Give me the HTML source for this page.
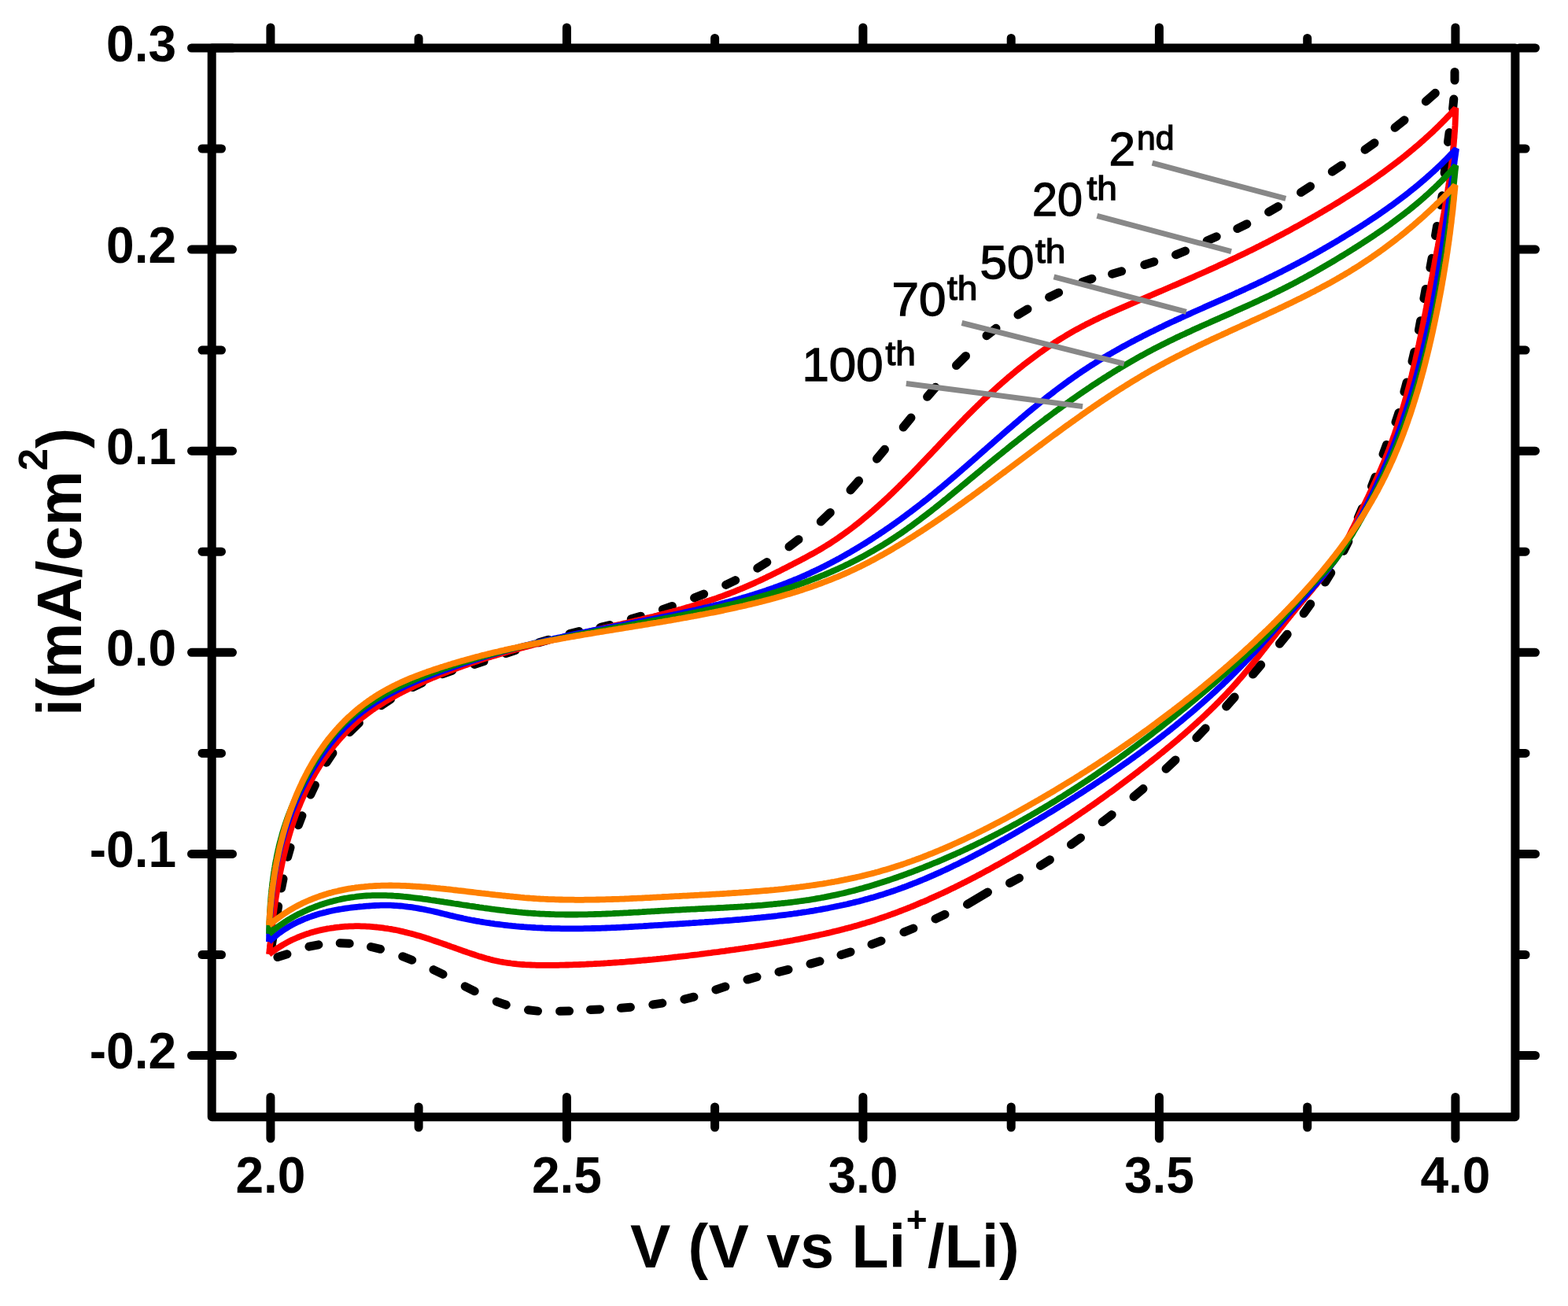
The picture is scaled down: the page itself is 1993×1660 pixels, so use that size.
<!DOCTYPE html>
<html><head><meta charset="utf-8"><title>Cyclic voltammetry</title>
<style>html,body{margin:0;padding:0;background:#fff;}svg{display:block;}</style>
</head><body>
<svg width="1993" height="1660" viewBox="0 0 1993 1660">
<rect width="1993" height="1660" fill="#fff"/>
<path d="M345.0 1203.0 L347.0 1191.0 M351.6 1164.0 L353.6 1152.0 M357.6 1129.0 L360.0 1117.0 M365.6 1089.3 L369.0 1077.3 M379.3 1048.8 L383.9 1036.8 M394.8 1010.0 L400.4 998.0 M414.9 969.2 L422.9 957.2 M444.4 930.7 L456.4 918.9 M484.6 896.7 L496.6 888.7 M524.7 873.5 L536.7 867.7 M562.8 856.7 L574.8 852.3 M603.0 844.4 L615.0 840.6 M643.1 830.5 L655.1 826.5 M685.0 816.8 L697.0 813.2 M724.0 805.5 L736.0 802.5 M763.0 797.5 L775.0 794.5 M802.3 786.8 L814.3 783.2 M842.4 774.7 L854.4 770.5 M882.6 759.9 L894.6 755.1 M922.7 743.4 L934.7 737.6 M962.8 722.2 L974.8 714.6 M1003.0 694.9 L1015.0 685.7 M1043.3 662.9 L1055.3 651.5 M1081.0 623.0 L1091.6 611.0 M1114.5 583.2 L1124.5 571.2 M1148.2 543.0 L1158.0 531.0 M1178.6 504.3 L1189.0 492.3 M1215.5 464.5 L1227.5 452.5 M1254.0 426.7 L1266.0 417.3 M1294.0 400.1 L1306.0 392.9 M1333.6 377.7 L1345.6 371.9 M1375.9 358.4 L1387.9 354.2 M1413.6 348.2 L1425.6 344.8 M1454.8 336.5 L1466.8 332.7 M1494.5 323.8 L1506.5 319.0 M1534.2 306.0 L1546.2 300.8 M1572.8 290.6 L1584.8 284.8 M1612.6 269.5 L1624.6 262.5 M1653.5 244.6 L1665.5 236.8 M1693.3 218.2 L1705.3 210.2 M1735.0 190.3 L1747.0 181.7 M1773.0 162.3 L1785.0 152.7 M1812.3 128.9 L1824.3 118.3 M1849.0 91.5 L1849.0 102.0 M1847.8 126.0 L1846.6 138.0 M1842.1 168.5 L1840.5 180.5 M1837.5 208.0 L1836.1 220.0 M1833.1 248.8 L1831.3 260.8 M1826.5 287.5 L1824.5 299.5 M1820.1 328.3 L1817.9 340.3 M1812.1 367.5 L1809.9 379.5 M1805.6 407.7 L1803.4 419.7 M1797.8 447.3 L1795.0 459.3 M1788.1 486.0 L1784.9 498.0 M1778.0 524.6 L1774.0 536.6 M1762.4 565.3 L1758.0 577.3 M1748.1 606.3 L1743.5 618.3 M1731.5 646.0 L1726.3 658.0 M1713.8 688.2 L1707.8 700.2 M1691.7 728.0 L1684.3 740.0 M1665.7 767.7 L1657.1 779.7 M1636.2 806.3 L1626.4 818.3 M1602.7 845.1 L1592.5 857.1 M1569.2 886.0 L1558.6 898.0 M1532.2 925.8 L1520.8 937.8 M1494.0 965.9 L1482.0 977.3 M1453.0 1002.6 L1441.0 1012.8 M1413.2 1035.6 L1401.2 1044.8 M1373.5 1064.9 L1361.5 1073.5 M1334.4 1092.8 L1322.4 1100.4 M1295.5 1116.0 L1283.5 1122.4 M1229.5 1149.5 L1255.5 1134.0 M1201.0 1162.3 L1189.0 1167.9 M1160.9 1180.0 L1148.9 1184.8 M1120.0 1195.9 L1108.0 1200.3 M1081.0 1209.9 L1069.0 1213.7 M1042.0 1221.7 L1030.0 1225.1 M1002.0 1232.4 L990.0 1235.4 M962.0 1241.7 L950.0 1245.1 M921.9 1254.1 L909.9 1257.9 M881.9 1267.2 L869.9 1270.2 M841.8 1275.1 L829.8 1276.9 M801.4 1280.2 L789.4 1281.2 M762.5 1282.9 L750.5 1283.5 M723.6 1285.1 L711.6 1285.3 M683.5 1285.1 L671.5 1283.7 M643.3 1277.3 L631.3 1273.1 M603.2 1259.8 L591.2 1253.8 M563.0 1238.4 L551.0 1232.6 M523.7 1220.3 L511.7 1215.7 M483.5 1206.3 L471.5 1203.5 M444.2 1199.2 L432.2 1198.8 M404.9 1200.8 L392.9 1203.2 M364.9 1212.8 L352.9 1216.6" fill="none" stroke="#000" stroke-width="11" stroke-linecap="round"/>
<path d="M342.0 1213.0 L342.3 1210.5 342.5 1208.0 342.8 1205.6 343.0 1203.1 343.3 1200.6 343.6 1198.1 343.8 1195.6 344.1 1193.2 344.4 1190.7 344.6 1188.2 344.9 1185.7 345.2 1183.2 345.5 1180.7 345.8 1178.3 346.1 1175.8 346.4 1173.3 346.7 1170.8 347.0 1168.3 347.3 1165.8 347.6 1163.3 347.9 1160.8 348.3 1158.4 348.6 1155.9 348.9 1153.4 349.3 1150.9 349.6 1148.4 350.0 1146.0 350.3 1143.5 350.7 1141.0 351.1 1138.5 351.5 1136.0 351.9 1133.6 352.3 1131.1 352.7 1128.6 353.1 1126.2 353.5 1123.7 353.9 1121.2 354.4 1118.8 354.8 1116.3 355.3 1113.9 355.7 1111.4 356.2 1108.9 356.7 1106.5 357.2 1104.0 357.7 1101.6 358.2 1099.2 358.7 1096.7 359.2 1094.3 359.8 1091.9 360.3 1089.4 360.9 1087.0 361.5 1084.6 362.1 1082.2 362.7 1079.7 363.3 1077.3 363.9 1074.9 364.5 1072.5 365.2 1070.1 365.8 1067.7 366.5 1065.3 367.2 1062.9 367.9 1060.6 368.6 1058.2 369.3 1055.8 370.1 1053.4 370.8 1051.1 371.6 1048.7 372.4 1046.4 373.1 1044.0 374.0 1041.7 374.8 1039.3 375.6 1037.0 376.5 1034.7 377.3 1032.3 378.2 1030.0 379.1 1027.7 380.0 1025.4 381.0 1023.1 381.9 1020.8 382.9 1018.5 383.9 1016.2 384.9 1014.0 385.9 1011.7 386.9 1009.4 388.0 1007.2 389.0 1004.9 390.1 1002.7 391.2 1000.5 392.3 998.2 393.5 996.0 394.6 993.8 395.8 991.6 397.0 989.4 398.2 987.2 399.5 985.0 400.7 982.8 402.0 980.7 403.3 978.5 404.6 976.4 405.9 974.2 407.3 972.1 408.6 970.0 410.0 967.9 411.4 965.8 412.9 963.7 414.3 961.6 415.8 959.6 417.2 957.5 418.7 955.5 420.3 953.5 421.8 951.5 423.4 949.5 424.9 947.5 426.5 945.6 428.2 943.6 429.8 941.7 431.4 939.8 433.1 937.9 434.8 936.1 436.5 934.2 438.2 932.4 440.0 930.6 441.7 928.8 443.5 927.0 445.3 925.3 447.1 923.6 448.9 921.9 450.8 920.2 452.7 918.5 454.5 916.9 456.4 915.3 458.4 913.7 460.3 912.1 462.3 910.6 464.2 909.1 466.2 907.6 468.2 906.1 470.2 904.6 472.2 903.2 474.3 901.7 476.3 900.3 478.4 898.9 480.5 897.6 482.6 896.2 484.7 894.9 486.8 893.6 488.9 892.3 491.0 891.0 493.2 889.7 495.3 888.5 497.5 887.2 499.7 886.0 501.8 884.8 504.0 883.6 506.2 882.4 508.4 881.2 510.6 880.1 512.8 878.9 515.0 877.8 517.3 876.7 519.5 875.6 521.7 874.5 524.0 873.4 526.2 872.3 528.4 871.2 530.7 870.1 532.9 869.1 535.2 868.0 537.5 867.0 539.7 866.0 542.0 865.0 544.3 864.0 546.6 863.0 548.8 862.0 551.1 861.0 553.4 860.1 555.7 859.1 558.0 858.2 560.3 857.2 562.6 856.3 564.9 855.4 567.2 854.5 569.5 853.6 571.9 852.7 574.2 851.8 576.5 850.9 578.8 850.0 581.2 849.2 583.5 848.3 585.8 847.5 588.2 846.6 590.5 845.8 592.9 845.0 595.2 844.1 597.6 843.3 599.9 842.5 602.3 841.7 604.7 840.9 607.0 840.2 609.4 839.4 611.8 838.6 614.1 837.8 616.5 837.1 618.9 836.3 621.3 835.6 623.7 834.9 626.0 834.1 628.4 833.4 630.8 832.7 633.2 832.0 635.6 831.3 638.0 830.6 640.4 829.9 642.8 829.2 645.2 828.5 647.6 827.8 650.0 827.1 652.4 826.4 654.8 825.8 657.3 825.1 659.7 824.5 662.1 823.8 664.5 823.2 666.9 822.5 669.4 821.9 671.8 821.2 674.2 820.6 676.6 820.0 679.1 819.3 681.5 818.7 683.9 818.1 686.3 817.5 688.8 816.9 691.2 816.3 693.6 815.7 696.1 815.1 698.5 814.5 700.9 813.9 703.4 813.3 705.8 812.7 708.3 812.1 710.7 811.5 713.1 810.9 715.6 810.4 718.0 809.8 720.5 809.2 722.9 808.6 725.4 808.0 727.8 807.5 730.3 806.9 732.7 806.3 735.1 805.8 737.6 805.2 740.0 804.6 742.5 804.1 744.9 803.5 747.4 803.0 749.8 802.4 752.3 801.8 754.7 801.3 757.2 800.7 759.6 800.2 762.1 799.6 764.5 799.1 766.9 798.5 769.4 797.9 771.8 797.4 774.3 796.8 776.7 796.3 779.2 795.7 781.6 795.1 784.0 794.6 786.5 794.0 788.9 793.5 791.4 792.9 793.8 792.3 796.2 791.8 798.7 791.2 801.1 790.6 803.6 790.1 806.0 789.5 808.4 788.9 810.9 788.4 813.3 787.8 815.7 787.2 818.1 786.6 820.6 786.0 823.0 785.4 825.4 784.9 827.8 784.3 830.3 783.7 832.7 783.1 835.1 782.5 837.5 781.8 839.9 781.2 842.3 780.6 844.8 780.0 847.2 779.4 849.6 778.7 852.0 778.1 854.4 777.5 856.8 776.8 859.2 776.2 861.6 775.5 864.0 774.8 866.4 774.2 868.8 773.5 871.2 772.8 873.5 772.1 875.9 771.4 878.3 770.7 880.7 770.0 883.1 769.3 885.4 768.6 887.8 767.8 890.2 767.1 892.6 766.3 894.9 765.6 897.3 764.8 899.7 764.0 902.0 763.3 904.4 762.5 906.7 761.7 909.1 760.9 911.4 760.1 913.8 759.2 916.1 758.4 918.4 757.6 920.8 756.7 923.1 755.8 925.4 755.0 927.7 754.1 930.1 753.2 932.4 752.3 934.7 751.4 937.0 750.4 939.3 749.5 941.6 748.5 943.9 747.6 946.2 746.6 948.5 745.6 950.8 744.6 953.1 743.6 955.4 742.6 957.7 741.6 959.9 740.6 962.2 739.5 964.5 738.5 966.8 737.4 969.0 736.4 971.3 735.3 973.6 734.2 975.8 733.1 978.1 732.0 980.3 730.9 982.6 729.8 984.8 728.7 987.1 727.6 989.3 726.5 991.6 725.4 993.8 724.2 996.0 723.1 998.3 722.0 1000.5 720.8 1002.7 719.7 1004.9 718.5 1007.2 717.4 1009.4 716.2 1011.6 715.1 1013.8 713.9 1016.1 712.8 1018.3 711.6 1020.5 710.4 1022.7 709.3 1024.9 708.1 1027.1 706.9 1029.3 705.7 1031.5 704.5 1033.7 703.3 1035.9 702.1 1038.0 700.9 1040.2 699.7 1042.3 698.4 1044.5 697.1 1046.6 695.8 1048.7 694.5 1050.8 693.2 1053.0 691.9 1055.1 690.6 1057.1 689.2 1059.2 687.8 1061.3 686.5 1063.4 685.1 1065.4 683.7 1067.5 682.2 1069.5 680.8 1071.5 679.4 1073.6 677.9 1075.6 676.4 1077.6 675.0 1079.6 673.5 1081.6 672.0 1083.6 670.5 1085.5 669.0 1087.5 667.4 1089.5 665.9 1091.4 664.3 1093.4 662.8 1095.3 661.2 1097.2 659.6 1099.1 658.0 1101.1 656.4 1103.0 654.8 1104.9 653.2 1106.8 651.6 1108.7 650.0 1110.5 648.3 1112.4 646.7 1114.3 645.0 1116.1 643.4 1118.0 641.7 1119.8 640.0 1121.7 638.4 1123.5 636.7 1125.3 635.0 1127.1 633.3 1129.0 631.6 1130.8 629.9 1132.6 628.2 1134.4 626.4 1136.2 624.7 1137.9 623.0 1139.7 621.3 1141.5 619.5 1143.3 617.8 1145.0 616.0 1146.8 614.3 1148.6 612.5 1150.3 610.7 1152.1 609.0 1153.8 607.2 1155.6 605.4 1157.3 603.7 1159.1 601.9 1160.8 600.1 1162.5 598.3 1164.3 596.5 1166.0 594.7 1167.7 592.9 1169.4 591.1 1171.2 589.3 1172.9 587.5 1174.6 585.7 1176.3 583.9 1178.0 582.1 1179.8 580.3 1181.5 578.5 1183.2 576.7 1184.9 574.9 1186.6 573.1 1188.3 571.3 1190.0 569.5 1191.8 567.7 1193.5 565.8 1195.2 564.0 1196.9 562.2 1198.6 560.4 1200.3 558.6 1202.1 556.8 1203.8 555.0 1205.5 553.2 1207.2 551.4 1208.9 549.6 1210.7 547.8 1212.4 546.0 1214.1 544.2 1215.9 542.4 1217.6 540.6 1219.3 538.8 1221.1 537.0 1222.8 535.2 1224.6 533.4 1226.3 531.6 1228.1 529.8 1229.9 528.0 1231.6 526.3 1233.4 524.5 1235.2 522.7 1236.9 521.0 1238.7 519.2 1240.5 517.5 1242.3 515.7 1244.1 514.0 1245.9 512.2 1247.7 510.5 1249.5 508.7 1251.3 507.0 1253.2 505.3 1255.0 503.6 1256.8 501.9 1258.7 500.2 1260.5 498.5 1262.4 496.8 1264.2 495.1 1266.1 493.4 1268.0 491.7 1269.8 490.0 1271.7 488.4 1273.6 486.7 1275.5 485.1 1277.4 483.4 1279.3 481.8 1281.2 480.1 1283.1 478.5 1285.0 476.9 1286.9 475.3 1288.9 473.7 1290.8 472.1 1292.7 470.5 1294.7 468.9 1296.6 467.3 1298.6 465.8 1300.5 464.2 1302.5 462.7 1304.5 461.1 1306.5 459.6 1308.5 458.1 1310.5 456.6 1312.5 455.1 1314.5 453.6 1316.5 452.1 1318.5 450.6 1320.5 449.2 1322.6 447.7 1324.6 446.3 1326.6 444.8 1328.7 443.4 1330.7 442.0 1332.8 440.6 1334.9 439.2 1337.0 437.8 1339.0 436.5 1341.1 435.1 1343.2 433.7 1345.3 432.4 1347.4 431.1 1349.5 429.8 1351.7 428.5 1353.8 427.2 1355.9 425.9 1358.1 424.6 1360.2 423.4 1362.4 422.1 1364.5 420.9 1366.7 419.7 1368.9 418.5 1371.1 417.3 1373.3 416.1 1375.5 414.9 1377.7 413.8 1379.9 412.6 1382.1 411.5 1384.3 410.4 1386.6 409.3 1388.8 408.2 1391.0 407.1 1393.3 406.0 1395.5 404.9 1397.8 403.8 1400.0 402.8 1402.3 401.7 1404.6 400.7 1406.8 399.7 1409.1 398.6 1411.4 397.6 1413.7 396.6 1415.9 395.6 1418.2 394.6 1420.5 393.6 1422.8 392.6 1425.1 391.6 1427.4 390.6 1429.7 389.6 1432.0 388.6 1434.3 387.6 1436.6 386.6 1438.9 385.6 1441.2 384.7 1443.4 383.7 1445.7 382.7 1448.0 381.7 1450.3 380.7 1452.6 379.8 1454.9 378.8 1457.2 377.8 1459.5 376.8 1461.8 375.8 1464.1 374.9 1466.4 373.9 1468.7 372.9 1471.0 371.9 1473.3 370.9 1475.6 370.0 1477.9 369.0 1480.2 368.0 1482.5 367.0 1484.8 366.0 1487.1 365.0 1489.4 364.0 1491.7 363.0 1494.0 362.1 1496.3 361.1 1498.6 360.1 1500.8 359.1 1503.1 358.1 1505.4 357.1 1507.7 356.1 1510.0 355.1 1512.3 354.1 1514.6 353.1 1516.9 352.1 1519.1 351.1 1521.4 350.0 1523.7 349.0 1526.0 348.0 1528.3 347.0 1530.5 346.0 1532.8 345.0 1535.1 343.9 1537.4 342.9 1539.6 341.9 1541.9 340.9 1544.2 339.8 1546.5 338.8 1548.7 337.7 1551.0 336.7 1553.3 335.7 1555.5 334.6 1557.8 333.6 1560.0 332.5 1562.3 331.4 1564.6 330.4 1566.8 329.3 1569.1 328.2 1571.3 327.2 1573.6 326.1 1575.8 325.0 1578.1 323.9 1580.3 322.9 1582.6 321.8 1584.8 320.7 1587.0 319.6 1589.3 318.5 1591.5 317.4 1593.8 316.3 1596.0 315.2 1598.2 314.0 1600.5 312.9 1602.7 311.8 1604.9 310.7 1607.1 309.5 1609.4 308.4 1611.6 307.3 1613.8 306.1 1616.0 305.0 1618.2 303.8 1620.4 302.7 1622.6 301.5 1624.9 300.3 1627.1 299.2 1629.3 298.0 1631.5 296.8 1633.7 295.6 1635.9 294.5 1638.1 293.3 1640.3 292.1 1642.4 290.9 1644.6 289.7 1646.8 288.5 1649.0 287.3 1651.2 286.1 1653.4 284.9 1655.6 283.6 1657.7 282.4 1659.9 281.2 1662.1 280.0 1664.3 278.7 1666.4 277.5 1668.6 276.2 1670.8 275.0 1672.9 273.7 1675.1 272.5 1677.2 271.2 1679.4 270.0 1681.5 268.7 1683.7 267.4 1685.8 266.1 1688.0 264.9 1690.1 263.6 1692.3 262.3 1694.4 261.0 1696.6 259.7 1698.7 258.4 1700.8 257.1 1703.0 255.8 1705.1 254.4 1707.2 253.1 1709.3 251.8 1711.4 250.5 1713.6 249.1 1715.7 247.8 1717.8 246.4 1719.9 245.1 1722.0 243.7 1724.1 242.4 1726.2 241.0 1728.3 239.6 1730.3 238.2 1732.4 236.9 1734.5 235.5 1736.6 234.1 1738.7 232.7 1740.7 231.3 1742.8 229.8 1744.8 228.4 1746.9 227.0 1748.9 225.6 1751.0 224.1 1753.0 222.7 1755.1 221.2 1757.1 219.8 1759.1 218.3 1761.1 216.8 1763.1 215.4 1765.1 213.9 1767.1 212.4 1769.1 210.9 1771.1 209.4 1773.1 207.9 1775.1 206.4 1777.1 204.9 1779.0 203.3 1781.0 201.8 1783.0 200.2 1784.9 198.7 1786.9 197.1 1788.8 195.6 1790.7 194.0 1792.6 192.4 1794.6 190.8 1796.5 189.2 1798.4 187.6 1800.3 186.0 1802.2 184.4 1804.1 182.8 1805.9 181.1 1807.8 179.5 1809.7 177.8 1811.5 176.2 1813.4 174.5 1815.2 172.8 1817.0 171.2 1818.9 169.5 1820.7 167.8 1822.5 166.1 1824.3 164.3 1826.1 162.6 1827.9 160.9 1829.6 159.1 1831.4 157.4 1833.2 155.6 1834.9 153.8 1836.7 152.1 1838.4 150.3 1840.1 148.5 1841.8 146.7 1843.6 144.9 1845.3 143.0 1846.9 141.2 1848.6 139.4 1850.3 137.5 L1850.3 140.0 1850.2 142.5 1850.1 145.0 1850.0 147.5 1849.9 150.0 1849.8 152.5 1849.7 155.0 1849.6 157.5 1849.5 160.0 1849.3 162.5 1849.2 165.0 1849.0 167.5 1848.8 170.0 1848.6 172.4 1848.5 174.9 1848.2 177.4 1848.0 179.9 1847.8 182.4 1847.6 184.9 1847.3 187.3 1847.1 189.8 1846.8 192.3 1846.6 194.8 1846.3 197.3 1846.0 199.7 1845.7 202.2 1845.5 204.7 1845.2 207.2 1844.8 209.6 1844.5 212.1 1844.2 214.6 1843.9 217.0 1843.5 219.5 1843.2 222.0 1842.9 224.4 1842.5 226.9 1842.1 229.4 1841.8 231.8 1841.4 234.3 1841.0 236.8 1840.6 239.2 1840.3 241.7 1839.9 244.1 1839.5 246.6 1839.1 249.1 1838.7 251.5 1838.3 254.0 1837.8 256.5 1837.4 258.9 1837.0 261.4 1836.6 263.8 1836.2 266.3 1835.7 268.7 1835.3 271.2 1834.8 273.7 1834.4 276.1 1834.0 278.6 1833.5 281.0 1833.1 283.5 1832.6 285.9 1832.2 288.4 1831.7 290.8 1831.3 293.3 1830.8 295.8 1830.3 298.2 1829.9 300.7 1829.4 303.1 1829.0 305.6 1828.5 308.0 1828.0 310.5 1827.6 312.9 1827.1 315.4 1826.6 317.9 1826.2 320.3 1825.7 322.8 1825.3 325.2 1824.8 327.7 1824.3 330.1 1823.9 332.6 1823.4 335.1 1823.0 337.5 1822.5 340.0 1822.0 342.4 1821.6 344.9 1821.1 347.3 1820.7 349.8 1820.2 352.3 1819.7 354.7 1819.3 357.2 1818.8 359.6 1818.4 362.1 1817.9 364.6 1817.5 367.0 1817.0 369.5 1816.5 371.9 1816.1 374.4 1815.6 376.8 1815.1 379.3 1814.7 381.8 1814.2 384.2 1813.7 386.7 1813.3 389.1 1812.8 391.6 1812.3 394.0 1811.9 396.5 1811.4 398.9 1810.9 401.4 1810.4 403.8 1809.9 406.3 1809.4 408.7 1809.0 411.2 1808.5 413.6 1808.0 416.1 1807.5 418.5 1807.0 421.0 1806.5 423.4 1806.0 425.9 1805.5 428.3 1805.0 430.8 1804.4 433.2 1803.9 435.6 1803.4 438.1 1802.9 440.5 1802.3 443.0 1801.8 445.4 1801.3 447.8 1800.7 450.3 1800.2 452.7 1799.6 455.1 1799.1 457.6 1798.5 460.0 1797.9 462.4 1797.4 464.8 1796.8 467.3 1796.2 469.7 1795.6 472.1 1795.0 474.5 1794.5 476.9 1793.9 479.4 1793.2 481.8 1792.6 484.2 1792.0 486.6 1791.4 489.0 1790.8 491.4 1790.1 493.8 1789.5 496.2 1788.8 498.6 1788.2 501.0 1787.5 503.4 1786.9 505.8 1786.2 508.2 1785.5 510.6 1784.8 513.0 1784.1 515.4 1783.4 517.8 1782.7 520.2 1782.0 522.6 1781.3 524.9 1780.5 527.3 1779.8 529.7 1779.1 532.1 1778.3 534.4 1777.5 536.8 1776.8 539.2 1776.0 541.6 1775.2 543.9 1774.4 546.3 1773.6 548.6 1772.8 551.0 1772.0 553.3 1771.1 555.7 1770.3 558.0 1769.5 560.4 1768.6 562.7 1767.7 565.1 1766.9 567.4 1766.0 569.7 1765.1 572.1 1764.2 574.4 1763.3 576.7 1762.3 579.0 1761.4 581.4 1760.5 583.7 1759.5 586.0 1758.6 588.3 1757.6 590.6 1756.6 592.9 1755.6 595.2 1754.6 597.5 1753.6 599.8 1752.6 602.1 1751.5 604.4 1750.5 606.7 1749.5 609.0 1748.4 611.2 1747.4 613.5 1746.3 615.8 1745.2 618.1 1744.2 620.4 1743.1 622.6 1742.0 624.9 1740.9 627.2 1739.9 629.4 1738.8 631.7 1737.7 633.9 1736.6 636.2 1735.5 638.5 1734.4 640.7 1733.3 643.0 1732.2 645.2 1731.1 647.5 1730.1 649.7 1729.0 652.0 1727.9 654.2 1726.8 656.5 1725.7 658.7 1724.6 660.9 1723.6 663.2 1722.5 665.4 1721.4 667.7 1720.3 669.9 1719.2 672.1 1718.1 674.3 1717.0 676.5 1715.9 678.7 1714.8 680.9 1713.7 683.1 1712.5 685.3 1711.4 687.5 1710.2 689.6 1709.0 691.8 1707.8 693.9 1706.6 696.0 1705.3 698.2 1704.0 700.3 1702.8 702.4 1701.4 704.4 1700.1 706.5 1698.8 708.6 1697.4 710.6 1696.0 712.6 1694.6 714.7 1693.2 716.7 1691.7 718.7 1690.3 720.7 1688.8 722.7 1687.4 724.7 1685.9 726.6 1684.4 728.6 1682.8 730.6 1681.3 732.5 1679.8 734.5 1678.2 736.4 1676.7 738.4 1675.1 740.3 1673.6 742.2 1672.0 744.2 1670.4 746.1 1668.8 748.0 1667.2 750.0 1665.6 751.9 1664.0 753.8 1662.4 755.7 1660.8 757.7 1659.2 759.6 1657.6 761.5 1656.0 763.4 1654.4 765.4 1652.8 767.3 1651.2 769.2 1649.6 771.2 1648.0 773.1 1646.4 775.0 1644.8 777.0 1643.2 778.9 1641.6 780.8 1640.1 782.8 1638.5 784.7 1636.9 786.7 1635.3 788.6 1633.8 790.6 1632.2 792.6 1630.7 794.5 1629.1 796.5 1627.6 798.4 1626.0 800.4 1624.5 802.4 1622.9 804.3 1621.4 806.3 1619.9 808.3 1618.3 810.3 1616.8 812.2 1615.2 814.2 1613.7 816.2 1612.2 818.1 1610.6 820.1 1609.1 822.1 1607.6 824.0 1606.0 826.0 1604.5 828.0 1602.9 829.9 1601.4 831.9 1599.9 833.8 1598.3 835.8 1596.8 837.7 1595.2 839.7 1593.6 841.6 1592.1 843.5 1590.5 845.5 1588.9 847.4 1587.4 849.3 1585.8 851.3 1584.2 853.2 1582.6 855.1 1581.0 857.0 1579.4 858.9 1577.8 860.8 1576.1 862.7 1574.5 864.5 1572.9 866.4 1571.2 868.3 1569.6 870.1 1567.9 872.0 1566.3 873.8 1564.6 875.7 1562.9 877.5 1561.2 879.3 1559.5 881.1 1557.8 883.0 1556.1 884.8 1554.3 886.6 1552.6 888.3 1550.9 890.1 1549.1 891.9 1547.4 893.7 1545.6 895.4 1543.8 897.2 1542.1 899.0 1540.3 900.7 1538.5 902.4 1536.7 904.2 1534.9 905.9 1533.1 907.6 1531.3 909.4 1529.4 911.1 1527.6 912.8 1525.8 914.5 1523.9 916.2 1522.1 917.9 1520.3 919.5 1518.4 921.2 1516.5 922.9 1514.7 924.6 1512.8 926.2 1510.9 927.9 1509.0 929.5 1507.2 931.2 1505.3 932.8 1503.4 934.5 1501.5 936.1 1499.6 937.7 1497.7 939.4 1495.8 941.0 1493.9 942.6 1491.9 944.2 1490.0 945.8 1488.1 947.4 1486.2 949.0 1484.2 950.6 1482.3 952.2 1480.4 953.8 1478.4 955.4 1476.5 957.0 1474.5 958.5 1472.6 960.1 1470.6 961.7 1468.7 963.2 1466.7 964.8 1464.7 966.4 1462.8 967.9 1460.8 969.5 1458.8 971.0 1456.9 972.6 1454.9 974.1 1452.9 975.7 1451.0 977.2 1449.0 978.7 1447.0 980.3 1445.0 981.8 1443.0 983.3 1441.1 984.8 1439.1 986.3 1437.1 987.9 1435.1 989.4 1433.1 990.9 1431.1 992.4 1429.1 993.9 1427.1 995.4 1425.1 996.9 1423.1 998.4 1421.1 999.8 1419.1 1001.3 1417.1 1002.8 1415.1 1004.3 1413.1 1005.8 1411.1 1007.2 1409.0 1008.7 1407.0 1010.2 1405.0 1011.6 1403.0 1013.1 1401.0 1014.5 1398.9 1016.0 1396.9 1017.4 1394.9 1018.9 1392.8 1020.3 1390.8 1021.8 1388.8 1023.2 1386.7 1024.6 1384.7 1026.0 1382.6 1027.5 1380.6 1028.9 1378.5 1030.3 1376.5 1031.7 1374.4 1033.1 1372.4 1034.5 1370.3 1035.9 1368.3 1037.3 1366.2 1038.7 1364.1 1040.1 1362.1 1041.5 1360.0 1042.9 1357.9 1044.3 1355.8 1045.6 1353.8 1047.0 1351.7 1048.4 1349.6 1049.7 1347.5 1051.1 1345.4 1052.5 1343.3 1053.8 1341.2 1055.2 1339.1 1056.5 1337.0 1057.9 1335.0 1059.2 1332.8 1060.5 1330.7 1061.9 1328.6 1063.2 1326.5 1064.5 1324.4 1065.8 1322.3 1067.2 1320.2 1068.5 1318.1 1069.8 1315.9 1071.1 1313.8 1072.4 1311.7 1073.7 1309.6 1075.0 1307.4 1076.3 1305.3 1077.6 1303.2 1078.8 1301.0 1080.1 1298.9 1081.4 1296.7 1082.7 1294.6 1083.9 1292.4 1085.2 1290.3 1086.5 1288.1 1087.7 1286.0 1089.0 1283.8 1090.2 1281.6 1091.4 1279.5 1092.7 1277.3 1093.9 1275.1 1095.2 1273.0 1096.4 1270.8 1097.6 1268.6 1098.8 1266.4 1100.0 1264.2 1101.2 1262.0 1102.5 1259.9 1103.7 1257.7 1104.9 1255.5 1106.0 1253.3 1107.2 1251.1 1108.4 1248.9 1109.6 1246.6 1110.8 1244.4 1112.0 1242.2 1113.1 1240.0 1114.3 1237.8 1115.5 1235.6 1116.6 1233.3 1117.8 1231.1 1118.9 1228.9 1120.1 1226.7 1121.2 1224.4 1122.3 1222.2 1123.4 1219.9 1124.6 1217.7 1125.7 1215.4 1126.8 1213.2 1127.9 1210.9 1129.0 1208.7 1130.1 1206.4 1131.2 1204.2 1132.3 1201.9 1133.3 1199.6 1134.4 1197.4 1135.5 1195.1 1136.5 1192.8 1137.6 1190.5 1138.6 1188.3 1139.7 1186.0 1140.7 1183.7 1141.7 1181.4 1142.7 1179.1 1143.8 1176.8 1144.8 1174.5 1145.8 1172.2 1146.7 1169.9 1147.7 1167.6 1148.7 1165.3 1149.7 1163.0 1150.6 1160.7 1151.6 1158.4 1152.5 1156.0 1153.5 1153.7 1154.4 1151.4 1155.3 1149.1 1156.2 1146.7 1157.1 1144.4 1158.0 1142.1 1158.9 1139.7 1159.8 1137.4 1160.7 1135.0 1161.5 1132.7 1162.4 1130.3 1163.2 1128.0 1164.1 1125.6 1164.9 1123.3 1165.7 1120.9 1166.5 1118.6 1167.3 1116.2 1168.1 1113.8 1168.9 1111.5 1169.7 1109.1 1170.4 1106.7 1171.2 1104.3 1171.9 1101.9 1172.6 1099.6 1173.4 1097.2 1174.1 1094.8 1174.8 1092.4 1175.5 1090.0 1176.2 1087.6 1176.9 1085.2 1177.5 1082.8 1178.2 1080.4 1178.9 1078.0 1179.5 1075.6 1180.1 1073.2 1180.8 1070.8 1181.4 1068.4 1182.0 1066.0 1182.6 1063.5 1183.2 1061.1 1183.8 1058.7 1184.4 1056.3 1185.0 1053.9 1185.6 1051.4 1186.1 1049.0 1186.7 1046.6 1187.3 1044.1 1187.8 1041.7 1188.3 1039.3 1188.9 1036.8 1189.4 1034.4 1189.9 1032.0 1190.4 1029.5 1190.9 1027.1 1191.4 1024.6 1191.9 1022.2 1192.4 1019.7 1192.9 1017.3 1193.4 1014.8 1193.9 1012.4 1194.3 1009.9 1194.8 1007.5 1195.3 1005.0 1195.7 1002.6 1196.2 1000.1 1196.6 997.7 1197.0 995.2 1197.5 992.7 1197.9 990.3 1198.3 987.8 1198.7 985.3 1199.2 982.9 1199.6 980.4 1200.0 978.0 1200.4 975.5 1200.8 973.0 1201.2 970.5 1201.6 968.1 1202.0 965.6 1202.3 963.1 1202.7 960.7 1203.1 958.2 1203.5 955.7 1203.8 953.2 1204.2 950.8 1204.6 948.3 1204.9 945.8 1205.3 943.4 1205.7 940.9 1206.0 938.4 1206.4 935.9 1206.7 933.4 1207.1 931.0 1207.4 928.5 1207.7 926.0 1208.1 923.5 1208.4 921.1 1208.8 918.6 1209.1 916.1 1209.4 913.6 1209.8 911.2 1210.1 908.7 1210.4 906.2 1210.7 903.7 1211.1 901.2 1211.4 898.8 1211.7 896.3 1212.0 893.8 1212.3 891.3 1212.6 888.8 1213.0 886.4 1213.3 883.9 1213.6 881.4 1213.9 878.9 1214.2 876.4 1214.5 874.0 1214.8 871.5 1215.1 869.0 1215.3 866.5 1215.6 864.0 1215.9 861.6 1216.2 859.1 1216.5 856.6 1216.7 854.1 1217.0 851.6 1217.3 849.1 1217.6 846.7 1217.8 844.2 1218.1 841.7 1218.3 839.2 1218.6 836.7 1218.8 834.2 1219.1 831.8 1219.3 829.3 1219.6 826.8 1219.8 824.3 1220.0 821.8 1220.3 819.3 1220.5 816.8 1220.7 814.4 1221.0 811.9 1221.2 809.4 1221.4 806.9 1221.6 804.4 1221.8 801.9 1222.0 799.4 1222.2 796.9 1222.4 794.5 1222.6 792.0 1222.8 789.5 1223.0 787.0 1223.2 784.5 1223.3 782.0 1223.5 779.5 1223.7 777.0 1223.9 774.5 1224.0 772.0 1224.2 769.5 1224.3 767.1 1224.5 764.6 1224.6 762.1 1224.8 759.6 1224.9 757.1 1225.0 754.6 1225.2 752.1 1225.3 749.6 1225.4 747.1 1225.5 744.6 1225.7 742.1 1225.8 739.6 1225.9 737.1 1226.0 734.6 1226.1 732.1 1226.2 729.6 1226.2 727.1 1226.3 724.6 1226.4 722.1 1226.5 719.6 1226.5 717.1 1226.6 714.6 1226.7 712.1 1226.7 709.6 1226.8 707.1 1226.8 704.6 1226.8 702.1 1226.9 699.6 1226.9 697.1 1226.9 694.6 1226.9 692.1 1226.9 689.6 1226.9 687.1 1226.9 684.6 1226.8 682.1 1226.8 679.6 1226.7 677.1 1226.6 674.6 1226.5 672.1 1226.4 669.6 1226.3 667.2 1226.2 664.7 1226.0 662.2 1225.8 659.7 1225.6 657.2 1225.4 654.8 1225.1 652.3 1224.8 649.8 1224.5 647.4 1224.2 644.9 1223.9 642.5 1223.5 640.0 1223.1 637.6 1222.7 635.1 1222.2 632.7 1221.7 630.3 1221.2 627.9 1220.7 625.4 1220.1 623.0 1219.5 620.6 1218.8 618.2 1218.2 615.8 1217.5 613.4 1216.8 611.0 1216.1 608.6 1215.4 606.2 1214.6 603.8 1213.8 601.5 1213.0 599.1 1212.2 596.7 1211.4 594.3 1210.6 592.0 1209.8 589.6 1209.0 587.2 1208.1 584.9 1207.3 582.5 1206.4 580.1 1205.6 577.8 1204.7 575.4 1203.9 573.0 1203.1 570.7 1202.2 568.3 1201.4 566.0 1200.5 563.6 1199.7 561.3 1198.9 558.9 1198.1 556.5 1197.3 554.2 1196.5 551.8 1195.7 549.4 1194.9 547.1 1194.1 544.7 1193.3 542.3 1192.6 540.0 1191.8 537.6 1191.1 535.2 1190.3 532.8 1189.6 530.4 1188.9 528.0 1188.2 525.7 1187.6 523.3 1186.9 520.8 1186.3 518.4 1185.7 516.0 1185.1 513.6 1184.5 511.2 1183.9 508.8 1183.4 506.3 1182.8 503.9 1182.3 501.4 1181.8 499.0 1181.4 496.5 1180.9 494.0 1180.5 491.6 1180.1 489.1 1179.8 486.6 1179.4 484.1 1179.1 481.6 1178.8 479.1 1178.5 476.6 1178.3 474.1 1178.1 471.6 1177.9 469.1 1177.7 466.5 1177.6 464.0 1177.4 461.5 1177.3 459.0 1177.3 456.5 1177.2 454.0 1177.2 451.4 1177.2 448.9 1177.3 446.4 1177.4 443.9 1177.4 441.4 1177.6 438.9 1177.7 436.4 1177.9 433.9 1178.1 431.4 1178.4 428.9 1178.6 426.4 1178.9 423.9 1179.3 421.4 1179.6 419.0 1180.0 416.5 1180.4 414.1 1180.9 411.6 1181.4 409.2 1181.9 406.8 1182.4 404.3 1183.0 401.9 1183.6 399.5 1184.3 397.1 1184.9 394.7 1185.6 392.4 1186.4 390.0 1187.1 387.7 1187.9 385.3 1188.8 383.0 1189.7 380.7 1190.6 378.4 1191.5 376.2 1192.5 373.9 1193.5 371.6 1194.5 369.4 1195.6 367.2 1196.7 365.0 1197.9 362.8 1199.1 360.6 1200.3 358.5 1201.6 356.4 1202.9 354.3 1204.2 352.2 1205.6 350.1 1207.0 348.0 1208.4 346.0 1209.9 344.0 1211.4 342.0 1213.0" fill="none" stroke="#ff0000" stroke-width="7.8" stroke-linejoin="bevel"/>
<path d="M342.0 1197.0 L342.0 1194.5 342.1 1192.0 342.1 1189.5 342.2 1186.9 342.3 1184.4 342.4 1181.9 342.5 1179.4 342.6 1176.9 342.7 1174.4 342.8 1171.9 343.0 1169.4 343.1 1166.9 343.3 1164.4 343.4 1161.9 343.6 1159.4 343.8 1156.9 344.0 1154.4 344.2 1151.9 344.4 1149.4 344.7 1147.0 344.9 1144.5 345.1 1142.0 345.4 1139.5 345.7 1137.0 346.0 1134.6 346.3 1132.1 346.6 1129.6 346.9 1127.1 347.3 1124.7 347.6 1122.2 348.0 1119.8 348.3 1117.3 348.7 1114.8 349.1 1112.4 349.6 1109.9 350.0 1107.5 350.4 1105.0 350.9 1102.6 351.3 1100.2 351.8 1097.7 352.3 1095.3 352.8 1092.9 353.4 1090.4 353.9 1088.0 354.4 1085.6 355.0 1083.2 355.6 1080.7 356.2 1078.3 356.8 1075.9 357.4 1073.5 358.0 1071.1 358.7 1068.7 359.4 1066.3 360.1 1063.9 360.8 1061.5 361.5 1059.1 362.2 1056.8 362.9 1054.4 363.7 1052.0 364.5 1049.6 365.3 1047.3 366.1 1044.9 366.9 1042.6 367.8 1040.2 368.6 1037.8 369.5 1035.5 370.4 1033.2 371.3 1030.8 372.2 1028.5 373.2 1026.2 374.1 1023.8 375.1 1021.5 376.1 1019.2 377.1 1016.9 378.1 1014.6 379.2 1012.3 380.2 1010.0 381.3 1007.7 382.4 1005.5 383.5 1003.2 384.6 1000.9 385.8 998.7 386.9 996.5 388.1 994.2 389.3 992.0 390.5 989.8 391.7 987.6 393.0 985.4 394.2 983.2 395.5 981.0 396.8 978.8 398.1 976.7 399.4 974.5 400.7 972.4 402.1 970.3 403.4 968.2 404.8 966.1 406.2 964.0 407.6 961.9 409.0 959.8 410.5 957.8 412.0 955.7 413.4 953.7 414.9 951.7 416.4 949.7 418.0 947.7 419.5 945.7 421.1 943.8 422.6 941.8 424.2 939.9 425.8 938.0 427.5 936.1 429.1 934.2 430.8 932.4 432.4 930.5 434.1 928.7 435.9 926.9 437.6 925.1 439.3 923.3 441.1 921.6 442.9 919.9 444.7 918.2 446.5 916.5 448.3 914.8 450.2 913.2 452.0 911.5 453.9 910.0 455.8 908.4 457.7 906.8 459.7 905.3 461.6 903.8 463.6 902.3 465.6 900.8 467.6 899.4 469.6 898.0 471.6 896.6 473.7 895.2 475.7 893.8 477.8 892.5 479.9 891.2 482.0 889.9 484.1 888.6 486.2 887.3 488.4 886.1 490.5 884.8 492.7 883.6 494.9 882.4 497.1 881.2 499.3 880.1 501.5 878.9 503.7 877.8 505.9 876.6 508.2 875.5 510.4 874.4 512.7 873.4 514.9 872.3 517.2 871.2 519.5 870.2 521.7 869.2 524.0 868.2 526.3 867.2 528.6 866.2 530.9 865.2 533.3 864.2 535.6 863.2 537.9 862.3 540.2 861.4 542.6 860.4 544.9 859.5 547.2 858.6 549.6 857.7 551.9 856.8 554.3 855.9 556.6 855.0 559.0 854.1 561.3 853.3 563.7 852.4 566.0 851.6 568.4 850.7 570.7 849.9 573.1 849.0 575.4 848.2 577.8 847.4 580.1 846.6 582.5 845.7 584.9 844.9 587.2 844.1 589.6 843.3 591.9 842.6 594.3 841.8 596.7 841.0 599.0 840.2 601.4 839.5 603.8 838.7 606.2 837.9 608.5 837.2 610.9 836.5 613.3 835.7 615.7 835.0 618.0 834.3 620.4 833.6 622.8 832.8 625.2 832.1 627.6 831.4 629.9 830.7 632.3 830.0 634.7 829.4 637.1 828.7 639.5 828.0 641.9 827.3 644.3 826.7 646.7 826.0 649.1 825.4 651.5 824.7 653.9 824.1 656.3 823.4 658.7 822.8 661.1 822.2 663.5 821.5 665.9 820.9 668.3 820.3 670.7 819.7 673.2 819.1 675.6 818.5 678.0 817.9 680.4 817.3 682.8 816.7 685.3 816.1 687.7 815.5 690.1 815.0 692.5 814.4 695.0 813.8 697.4 813.3 699.8 812.7 702.3 812.2 704.7 811.6 707.2 811.1 709.6 810.5 712.1 810.0 714.5 809.5 717.0 808.9 719.4 808.4 721.9 807.9 724.3 807.4 726.8 806.9 729.2 806.4 731.7 805.8 734.1 805.3 736.6 804.8 739.1 804.3 741.5 803.8 744.0 803.3 746.4 802.8 748.9 802.4 751.4 801.9 753.8 801.4 756.3 800.9 758.8 800.4 761.3 799.9 763.7 799.4 766.2 799.0 768.7 798.5 771.1 798.0 773.6 797.5 776.1 797.1 778.6 796.6 781.0 796.1 783.5 795.6 786.0 795.2 788.5 794.7 791.0 794.2 793.4 793.7 795.9 793.3 798.4 792.8 800.9 792.3 803.3 791.8 805.8 791.4 808.3 790.9 810.8 790.4 813.2 789.9 815.7 789.5 818.2 789.0 820.7 788.5 823.1 788.0 825.6 787.5 828.1 787.0 830.6 786.6 833.0 786.1 835.5 785.6 838.0 785.1 840.4 784.6 842.9 784.1 845.4 783.6 847.9 783.1 850.3 782.6 852.8 782.1 855.3 781.6 857.7 781.0 860.2 780.5 862.6 780.0 865.1 779.5 867.6 779.0 870.0 778.4 872.5 777.9 874.9 777.4 877.4 776.8 879.8 776.3 882.3 775.7 884.7 775.2 887.2 774.6 889.6 774.0 892.1 773.5 894.5 772.9 896.9 772.3 899.4 771.8 901.8 771.2 904.2 770.6 906.7 770.0 909.1 769.4 911.5 768.8 914.0 768.2 916.4 767.5 918.8 766.9 921.2 766.3 923.6 765.6 926.0 765.0 928.5 764.3 930.9 763.7 933.3 763.0 935.7 762.4 938.1 761.7 940.5 761.0 942.9 760.3 945.2 759.6 947.6 758.9 950.0 758.2 952.4 757.5 954.8 756.7 957.2 756.0 959.5 755.3 961.9 754.5 964.3 753.8 966.6 753.0 969.0 752.2 971.3 751.4 973.7 750.6 976.0 749.8 978.4 749.0 980.7 748.2 983.1 747.4 985.4 746.5 987.7 745.7 990.1 744.8 992.4 744.0 994.7 743.1 997.0 742.2 999.3 741.3 1001.6 740.4 1003.9 739.5 1006.2 738.6 1008.5 737.7 1010.8 736.7 1013.1 735.8 1015.4 734.8 1017.7 733.8 1019.9 732.8 1022.2 731.8 1024.5 730.8 1026.7 729.8 1029.0 728.8 1031.2 727.7 1033.5 726.7 1035.7 725.6 1038.0 724.6 1040.2 723.5 1042.4 722.4 1044.6 721.3 1046.9 720.2 1049.1 719.1 1051.3 717.9 1053.5 716.8 1055.7 715.7 1057.9 714.5 1060.1 713.3 1062.3 712.2 1064.5 711.0 1066.7 709.8 1068.8 708.6 1071.0 707.4 1073.2 706.2 1075.3 704.9 1077.5 703.7 1079.7 702.5 1081.8 701.2 1084.0 699.9 1086.1 698.7 1088.2 697.4 1090.4 696.1 1092.5 694.8 1094.6 693.5 1096.8 692.2 1098.9 690.9 1101.0 689.6 1103.1 688.2 1105.2 686.9 1107.3 685.6 1109.4 684.2 1111.5 682.8 1113.6 681.5 1115.7 680.1 1117.8 678.7 1119.8 677.3 1121.9 675.9 1124.0 674.5 1126.0 673.1 1128.1 671.7 1130.2 670.3 1132.2 668.8 1134.3 667.4 1136.3 665.9 1138.4 664.5 1140.4 663.0 1142.4 661.6 1144.5 660.1 1146.5 658.6 1148.5 657.1 1150.5 655.7 1152.5 654.2 1154.5 652.7 1156.6 651.2 1158.6 649.6 1160.6 648.1 1162.5 646.6 1164.5 645.1 1166.5 643.6 1168.5 642.0 1170.5 640.5 1172.5 638.9 1174.4 637.4 1176.4 635.8 1178.4 634.3 1180.3 632.7 1182.3 631.1 1184.2 629.5 1186.2 628.0 1188.1 626.4 1190.0 624.8 1192.0 623.2 1193.9 621.6 1195.9 620.0 1197.8 618.4 1199.7 616.8 1201.6 615.2 1203.5 613.6 1205.5 611.9 1207.4 610.3 1209.3 608.7 1211.2 607.1 1213.1 605.5 1215.0 603.8 1216.9 602.2 1218.8 600.6 1220.7 598.9 1222.6 597.3 1224.5 595.6 1226.4 594.0 1228.3 592.3 1230.2 590.7 1232.1 589.1 1233.9 587.4 1235.8 585.8 1237.7 584.1 1239.6 582.5 1241.5 580.8 1243.4 579.1 1245.2 577.5 1247.1 575.8 1249.0 574.2 1250.9 572.5 1252.8 570.9 1254.7 569.2 1256.5 567.6 1258.4 565.9 1260.3 564.3 1262.2 562.6 1264.1 561.0 1265.9 559.3 1267.8 557.7 1269.7 556.0 1271.6 554.4 1273.5 552.7 1275.4 551.1 1277.2 549.4 1279.1 547.8 1281.0 546.2 1282.9 544.5 1284.8 542.9 1286.7 541.3 1288.6 539.6 1290.5 538.0 1292.4 536.4 1294.3 534.8 1296.2 533.1 1298.1 531.5 1300.0 529.9 1301.9 528.3 1303.8 526.7 1305.7 525.1 1307.6 523.5 1309.6 521.9 1311.5 520.3 1313.4 518.7 1315.3 517.2 1317.3 515.6 1319.2 514.0 1321.1 512.4 1323.1 510.9 1325.0 509.3 1327.0 507.8 1328.9 506.2 1330.9 504.7 1332.8 503.1 1334.8 501.6 1336.8 500.1 1338.7 498.6 1340.7 497.0 1342.7 495.5 1344.7 494.0 1346.7 492.5 1348.7 491.1 1350.7 489.6 1352.7 488.1 1354.7 486.6 1356.7 485.2 1358.7 483.7 1360.7 482.3 1362.8 480.8 1364.8 479.4 1366.8 478.0 1368.9 476.5 1370.9 475.1 1373.0 473.7 1375.0 472.3 1377.1 470.9 1379.2 469.6 1381.3 468.2 1383.4 466.8 1385.4 465.5 1387.5 464.1 1389.7 462.8 1391.8 461.5 1393.9 460.1 1396.0 458.8 1398.1 457.5 1400.3 456.2 1402.4 454.9 1404.5 453.6 1406.7 452.4 1408.8 451.1 1411.0 449.8 1413.2 448.6 1415.3 447.3 1417.5 446.1 1419.7 444.9 1421.9 443.6 1424.1 442.4 1426.2 441.2 1428.4 440.0 1430.6 438.8 1432.8 437.6 1435.0 436.4 1437.3 435.2 1439.5 434.0 1441.7 432.9 1443.9 431.7 1446.1 430.6 1448.4 429.4 1450.6 428.3 1452.8 427.1 1455.1 426.0 1457.3 424.8 1459.5 423.7 1461.8 422.6 1464.0 421.5 1466.3 420.4 1468.5 419.3 1470.8 418.2 1473.1 417.1 1475.3 416.0 1477.6 414.9 1479.8 413.8 1482.1 412.7 1484.4 411.7 1486.6 410.6 1488.9 409.5 1491.2 408.5 1493.5 407.4 1495.7 406.4 1498.0 405.3 1500.3 404.3 1502.6 403.2 1504.8 402.2 1507.1 401.1 1509.4 400.1 1511.7 399.1 1514.0 398.1 1516.3 397.0 1518.5 396.0 1520.8 395.0 1523.1 394.0 1525.4 393.0 1527.7 392.0 1530.0 390.9 1532.2 389.9 1534.5 388.9 1536.8 387.9 1539.1 386.9 1541.4 385.9 1543.7 384.9 1545.9 383.9 1548.2 382.9 1550.5 381.9 1552.8 380.9 1555.1 379.9 1557.3 378.8 1559.6 377.8 1561.9 376.8 1564.2 375.8 1566.5 374.8 1568.7 373.8 1571.0 372.7 1573.3 371.7 1575.5 370.7 1577.8 369.7 1580.1 368.6 1582.3 367.6 1584.6 366.5 1586.9 365.5 1589.1 364.4 1591.4 363.4 1593.6 362.3 1595.9 361.3 1598.2 360.2 1600.4 359.1 1602.7 358.1 1604.9 357.0 1607.2 355.9 1609.4 354.8 1611.6 353.7 1613.9 352.6 1616.1 351.5 1618.4 350.4 1620.6 349.3 1622.8 348.2 1625.1 347.1 1627.3 346.0 1629.5 344.9 1631.7 343.7 1634.0 342.6 1636.2 341.4 1638.4 340.3 1640.6 339.2 1642.8 338.0 1645.0 336.8 1647.3 335.7 1649.5 334.5 1651.7 333.3 1653.9 332.1 1656.1 331.0 1658.3 329.8 1660.5 328.6 1662.7 327.4 1664.8 326.2 1667.0 325.0 1669.2 323.8 1671.4 322.5 1673.6 321.3 1675.8 320.1 1677.9 318.9 1680.1 317.6 1682.3 316.4 1684.4 315.1 1686.6 313.9 1688.8 312.6 1690.9 311.4 1693.1 310.1 1695.2 308.8 1697.4 307.6 1699.5 306.3 1701.7 305.0 1703.8 303.7 1706.0 302.4 1708.1 301.1 1710.2 299.8 1712.3 298.5 1714.5 297.2 1716.6 295.9 1718.7 294.6 1720.8 293.2 1723.0 291.9 1725.1 290.6 1727.2 289.2 1729.3 287.9 1731.4 286.5 1733.5 285.2 1735.6 283.8 1737.7 282.5 1739.7 281.1 1741.8 279.7 1743.9 278.3 1746.0 276.9 1748.1 275.6 1750.1 274.2 1752.2 272.8 1754.2 271.3 1756.3 269.9 1758.3 268.5 1760.4 267.1 1762.4 265.6 1764.4 264.2 1766.5 262.7 1768.5 261.3 1770.5 259.8 1772.5 258.3 1774.5 256.9 1776.5 255.4 1778.5 253.9 1780.5 252.4 1782.5 250.9 1784.5 249.4 1786.5 247.9 1788.4 246.3 1790.4 244.8 1792.3 243.2 1794.3 241.7 1796.2 240.1 1798.2 238.6 1800.1 237.0 1802.0 235.4 1803.9 233.8 1805.8 232.2 1807.7 230.6 1809.6 229.0 1811.5 227.3 1813.4 225.7 1815.3 224.0 1817.1 222.4 1819.0 220.7 1820.8 219.0 1822.7 217.4 1824.5 215.7 1826.3 213.9 1828.2 212.2 1830.0 210.5 1831.8 208.8 1833.6 207.0 1835.3 205.3 1837.1 203.5 1838.9 201.7 1840.6 199.9 1842.4 198.1 1844.1 196.3 1845.9 194.5 1847.6 192.7 1849.3 190.9 1851.0 189.0 L1850.7 191.5 1850.3 193.9 1850.0 196.4 1849.6 198.9 1849.3 201.3 1848.9 203.8 1848.6 206.3 1848.3 208.7 1847.9 211.2 1847.6 213.7 1847.2 216.1 1846.9 218.6 1846.6 221.1 1846.2 223.6 1845.9 226.0 1845.6 228.5 1845.2 231.0 1844.9 233.4 1844.5 235.9 1844.2 238.4 1843.9 240.9 1843.5 243.3 1843.2 245.8 1842.8 248.3 1842.5 250.8 1842.2 253.3 1841.8 255.7 1841.5 258.2 1841.1 260.7 1840.8 263.2 1840.4 265.6 1840.1 268.1 1839.7 270.6 1839.4 273.1 1839.0 275.5 1838.7 278.0 1838.3 280.5 1838.0 283.0 1837.6 285.4 1837.3 287.9 1836.9 290.4 1836.5 292.9 1836.2 295.4 1835.8 297.8 1835.5 300.3 1835.1 302.8 1834.7 305.3 1834.4 307.7 1834.0 310.2 1833.6 312.7 1833.2 315.2 1832.8 317.6 1832.5 320.1 1832.1 322.6 1831.7 325.1 1831.3 327.5 1830.9 330.0 1830.5 332.5 1830.1 334.9 1829.7 337.4 1829.3 339.9 1828.9 342.4 1828.5 344.8 1828.1 347.3 1827.7 349.8 1827.3 352.2 1826.9 354.7 1826.4 357.2 1826.0 359.6 1825.6 362.1 1825.2 364.6 1824.7 367.0 1824.3 369.5 1823.8 371.9 1823.4 374.4 1823.0 376.9 1822.5 379.3 1822.0 381.8 1821.6 384.2 1821.1 386.7 1820.7 389.2 1820.2 391.6 1819.7 394.1 1819.2 396.5 1818.7 399.0 1818.3 401.4 1817.8 403.9 1817.3 406.3 1816.8 408.8 1816.3 411.2 1815.8 413.7 1815.2 416.1 1814.7 418.5 1814.2 421.0 1813.7 423.4 1813.1 425.9 1812.6 428.3 1812.1 430.7 1811.5 433.2 1811.0 435.6 1810.4 438.0 1809.8 440.5 1809.3 442.9 1808.7 445.3 1808.1 447.8 1807.5 450.2 1806.9 452.6 1806.3 455.0 1805.7 457.5 1805.1 459.9 1804.5 462.3 1803.9 464.7 1803.3 467.1 1802.7 469.5 1802.0 471.9 1801.4 474.4 1800.7 476.8 1800.1 479.2 1799.4 481.6 1798.8 484.0 1798.1 486.4 1797.4 488.8 1796.7 491.2 1796.0 493.6 1795.3 496.0 1794.6 498.4 1793.9 500.8 1793.2 503.1 1792.5 505.5 1791.7 507.9 1791.0 510.3 1790.3 512.7 1789.5 515.0 1788.7 517.4 1788.0 519.8 1787.2 522.2 1786.4 524.5 1785.6 526.9 1784.8 529.3 1784.0 531.6 1783.2 534.0 1782.4 536.4 1781.6 538.7 1780.8 541.1 1779.9 543.4 1779.1 545.8 1778.2 548.1 1777.3 550.5 1776.5 552.8 1775.6 555.1 1774.7 557.5 1773.8 559.8 1772.9 562.2 1772.0 564.5 1771.1 566.8 1770.2 569.1 1769.2 571.5 1768.3 573.8 1767.4 576.1 1766.4 578.4 1765.5 580.7 1764.5 583.0 1763.5 585.4 1762.6 587.7 1761.6 590.0 1760.6 592.3 1759.6 594.6 1758.6 596.9 1757.6 599.1 1756.6 601.4 1755.5 603.7 1754.5 606.0 1753.5 608.3 1752.4 610.6 1751.4 612.8 1750.3 615.1 1749.3 617.4 1748.2 619.7 1747.2 621.9 1746.1 624.2 1745.0 626.4 1743.9 628.7 1742.8 631.0 1741.7 633.2 1740.6 635.5 1739.5 637.7 1738.4 639.9 1737.3 642.2 1736.2 644.4 1735.0 646.7 1733.9 648.9 1732.7 651.1 1731.6 653.3 1730.5 655.6 1729.3 657.8 1728.1 660.0 1727.0 662.2 1725.8 664.4 1724.6 666.6 1723.4 668.8 1722.2 671.0 1721.0 673.2 1719.8 675.4 1718.6 677.5 1717.4 679.7 1716.1 681.9 1714.9 684.0 1713.6 686.2 1712.4 688.3 1711.1 690.4 1709.8 692.6 1708.5 694.7 1707.2 696.8 1705.8 698.9 1704.5 701.0 1703.1 703.0 1701.7 705.1 1700.3 707.2 1698.9 709.2 1697.5 711.2 1696.1 713.2 1694.6 715.3 1693.1 717.2 1691.6 719.2 1690.1 721.2 1688.6 723.2 1687.1 725.1 1685.5 727.0 1684.0 729.0 1682.4 730.9 1680.8 732.8 1679.2 734.7 1677.6 736.6 1676.0 738.5 1674.3 740.4 1672.7 742.3 1671.0 744.1 1669.4 746.0 1667.7 747.9 1666.1 749.7 1664.4 751.6 1662.7 753.4 1661.0 755.3 1659.3 757.1 1657.7 759.0 1656.0 760.8 1654.3 762.6 1652.6 764.5 1650.9 766.3 1649.2 768.2 1647.5 770.0 1645.8 771.8 1644.1 773.7 1642.4 775.5 1640.7 777.4 1639.0 779.2 1637.3 781.1 1635.7 783.0 1634.0 784.8 1632.3 786.7 1630.7 788.5 1629.0 790.4 1627.3 792.3 1625.7 794.1 1624.0 796.0 1622.3 797.9 1620.7 799.8 1619.0 801.6 1617.3 803.5 1615.7 805.4 1614.0 807.2 1612.3 809.1 1610.7 811.0 1609.0 812.8 1607.3 814.7 1605.7 816.6 1604.0 818.4 1602.3 820.3 1600.6 822.1 1599.0 824.0 1597.3 825.8 1595.6 827.7 1593.9 829.5 1592.2 831.3 1590.5 833.2 1588.8 835.0 1587.1 836.8 1585.4 838.6 1583.6 840.4 1581.9 842.2 1580.2 844.0 1578.4 845.8 1576.7 847.6 1574.9 849.4 1573.2 851.1 1571.4 852.9 1569.7 854.7 1567.9 856.4 1566.1 858.2 1564.4 859.9 1562.6 861.7 1560.8 863.4 1559.0 865.1 1557.2 866.8 1555.4 868.6 1553.6 870.3 1551.8 872.0 1550.0 873.7 1548.1 875.4 1546.3 877.1 1544.5 878.8 1542.7 880.5 1540.8 882.2 1539.0 883.8 1537.1 885.5 1535.3 887.2 1533.4 888.8 1531.6 890.5 1529.7 892.1 1527.8 893.8 1526.0 895.4 1524.1 897.1 1522.2 898.7 1520.3 900.3 1518.4 902.0 1516.6 903.6 1514.7 905.2 1512.8 906.8 1510.8 908.4 1508.9 910.0 1507.0 911.6 1505.1 913.2 1503.2 914.8 1501.3 916.4 1499.3 918.0 1497.4 919.5 1495.5 921.1 1493.5 922.7 1491.6 924.2 1489.6 925.8 1487.7 927.4 1485.7 928.9 1483.8 930.5 1481.8 932.0 1479.8 933.5 1477.9 935.1 1475.9 936.6 1473.9 938.1 1472.0 939.6 1470.0 941.2 1468.0 942.7 1466.0 944.2 1464.0 945.7 1462.0 947.2 1460.0 948.7 1458.0 950.2 1456.0 951.7 1454.0 953.2 1452.0 954.7 1450.0 956.1 1447.9 957.6 1445.9 959.1 1443.9 960.5 1441.9 962.0 1439.8 963.5 1437.8 964.9 1435.8 966.4 1433.7 967.8 1431.7 969.3 1429.6 970.7 1427.6 972.2 1425.5 973.6 1423.5 975.0 1421.4 976.5 1419.3 977.9 1417.3 979.3 1415.2 980.7 1413.1 982.1 1411.1 983.5 1409.0 985.0 1406.9 986.4 1404.8 987.8 1402.8 989.2 1400.7 990.6 1398.6 992.0 1396.5 993.3 1394.4 994.7 1392.3 996.1 1390.2 997.5 1388.1 998.9 1386.0 1000.2 1383.9 1001.6 1381.8 1003.0 1379.7 1004.3 1377.6 1005.7 1375.5 1007.1 1373.4 1008.4 1371.2 1009.8 1369.1 1011.1 1367.0 1012.5 1364.9 1013.8 1362.8 1015.2 1360.6 1016.5 1358.5 1017.8 1356.4 1019.2 1354.2 1020.5 1352.1 1021.8 1350.0 1023.2 1347.8 1024.5 1345.7 1025.8 1343.5 1027.1 1341.4 1028.4 1339.3 1029.8 1337.1 1031.1 1335.0 1032.4 1332.8 1033.7 1330.6 1035.0 1328.5 1036.3 1326.3 1037.6 1324.2 1038.9 1322.0 1040.2 1319.9 1041.5 1317.7 1042.8 1315.5 1044.0 1313.4 1045.3 1311.2 1046.6 1309.0 1047.9 1306.9 1049.2 1304.7 1050.4 1302.5 1051.7 1300.4 1053.0 1298.2 1054.3 1296.0 1055.5 1293.8 1056.8 1291.6 1058.1 1289.5 1059.3 1287.3 1060.6 1285.1 1061.8 1282.9 1063.1 1280.7 1064.3 1278.5 1065.5 1276.3 1066.8 1274.2 1068.0 1272.0 1069.2 1269.8 1070.5 1267.6 1071.7 1265.4 1072.9 1263.2 1074.1 1261.0 1075.3 1258.8 1076.5 1256.6 1077.7 1254.3 1078.9 1252.1 1080.1 1249.9 1081.3 1247.7 1082.5 1245.5 1083.7 1243.3 1084.8 1241.0 1086.0 1238.8 1087.2 1236.6 1088.3 1234.4 1089.5 1232.1 1090.6 1229.9 1091.8 1227.7 1092.9 1225.4 1094.0 1223.2 1095.1 1221.0 1096.2 1218.7 1097.4 1216.5 1098.5 1214.2 1099.5 1212.0 1100.6 1209.7 1101.7 1207.5 1102.8 1205.2 1103.9 1203.0 1104.9 1200.7 1106.0 1198.4 1107.0 1196.2 1108.1 1193.9 1109.1 1191.6 1110.1 1189.3 1111.1 1187.1 1112.1 1184.8 1113.1 1182.5 1114.1 1180.2 1115.1 1177.9 1116.1 1175.6 1117.1 1173.4 1118.0 1171.1 1119.0 1168.8 1119.9 1166.5 1120.9 1164.1 1121.8 1161.8 1122.7 1159.5 1123.6 1157.2 1124.5 1154.9 1125.4 1152.6 1126.3 1150.3 1127.2 1147.9 1128.0 1145.6 1128.9 1143.3 1129.7 1140.9 1130.6 1138.6 1131.4 1136.3 1132.2 1133.9 1133.0 1131.6 1133.8 1129.2 1134.6 1126.9 1135.3 1124.5 1136.1 1122.1 1136.9 1119.8 1137.6 1117.4 1138.3 1115.0 1139.1 1112.7 1139.8 1110.3 1140.5 1107.9 1141.1 1105.5 1141.8 1103.1 1142.5 1100.7 1143.1 1098.3 1143.8 1096.0 1144.4 1093.6 1145.1 1091.2 1145.7 1088.7 1146.3 1086.3 1146.9 1083.9 1147.5 1081.5 1148.0 1079.1 1148.6 1076.7 1149.2 1074.3 1149.7 1071.8 1150.3 1069.4 1150.8 1067.0 1151.3 1064.5 1151.8 1062.1 1152.3 1059.7 1152.8 1057.2 1153.3 1054.8 1153.8 1052.3 1154.3 1049.9 1154.7 1047.4 1155.2 1045.0 1155.6 1042.5 1156.1 1040.1 1156.5 1037.6 1156.9 1035.2 1157.4 1032.7 1157.8 1030.2 1158.2 1027.8 1158.6 1025.3 1159.0 1022.8 1159.3 1020.3 1159.7 1017.9 1160.1 1015.4 1160.4 1012.9 1160.8 1010.4 1161.1 1008.0 1161.5 1005.5 1161.8 1003.0 1162.2 1000.5 1162.5 998.0 1162.8 995.5 1163.1 993.0 1163.4 990.5 1163.7 988.1 1164.0 985.6 1164.3 983.1 1164.6 980.6 1164.9 978.1 1165.1 975.6 1165.4 973.1 1165.7 970.6 1165.9 968.1 1166.2 965.6 1166.5 963.1 1166.7 960.6 1166.9 958.1 1167.2 955.5 1167.4 953.0 1167.7 950.5 1167.9 948.0 1168.1 945.5 1168.3 943.0 1168.5 940.5 1168.8 938.0 1169.0 935.5 1169.2 933.0 1169.4 930.5 1169.6 927.9 1169.8 925.4 1170.0 922.9 1170.2 920.4 1170.4 917.9 1170.6 915.4 1170.7 912.9 1170.9 910.3 1171.1 907.8 1171.3 905.3 1171.5 902.8 1171.6 900.3 1171.8 897.8 1172.0 895.3 1172.2 892.8 1172.3 890.2 1172.5 887.7 1172.7 885.2 1172.8 882.7 1173.0 880.2 1173.2 877.7 1173.3 875.2 1173.5 872.7 1173.6 870.2 1173.8 867.6 1174.0 865.1 1174.1 862.6 1174.3 860.1 1174.5 857.6 1174.6 855.1 1174.8 852.6 1174.9 850.1 1175.1 847.6 1175.3 845.1 1175.4 842.6 1175.6 840.1 1175.8 837.6 1175.9 835.1 1176.1 832.6 1176.2 830.1 1176.4 827.6 1176.5 825.1 1176.7 822.6 1176.9 820.1 1177.0 817.6 1177.2 815.1 1177.3 812.6 1177.4 810.1 1177.6 807.7 1177.7 805.2 1177.9 802.7 1178.0 800.2 1178.1 797.7 1178.3 795.2 1178.4 792.7 1178.5 790.2 1178.6 787.7 1178.8 785.2 1178.9 782.8 1179.0 780.3 1179.1 777.8 1179.2 775.3 1179.3 772.8 1179.4 770.3 1179.5 767.8 1179.6 765.3 1179.7 762.9 1179.8 760.4 1179.8 757.9 1179.9 755.4 1180.0 752.9 1180.0 750.4 1180.1 747.9 1180.1 745.5 1180.2 743.0 1180.2 740.5 1180.3 738.0 1180.3 735.5 1180.3 733.0 1180.3 730.6 1180.4 728.1 1180.4 725.6 1180.4 723.1 1180.4 720.6 1180.3 718.1 1180.3 715.7 1180.3 713.2 1180.3 710.7 1180.2 708.2 1180.2 705.7 1180.1 703.2 1180.1 700.7 1180.0 698.3 1179.9 695.8 1179.8 693.3 1179.8 690.8 1179.7 688.3 1179.5 685.8 1179.4 683.4 1179.3 680.9 1179.2 678.4 1179.0 675.9 1178.9 673.4 1178.7 670.9 1178.6 668.4 1178.4 665.9 1178.2 663.5 1178.0 661.0 1177.8 658.5 1177.6 656.0 1177.4 653.5 1177.1 651.0 1176.9 648.6 1176.6 646.1 1176.4 643.6 1176.1 641.1 1175.8 638.6 1175.5 636.1 1175.2 633.7 1174.9 631.2 1174.6 628.7 1174.3 626.2 1173.9 623.8 1173.6 621.3 1173.2 618.8 1172.9 616.4 1172.5 613.9 1172.1 611.4 1171.7 609.0 1171.2 606.5 1170.8 604.0 1170.4 601.6 1169.9 599.1 1169.5 596.7 1169.0 594.2 1168.5 591.8 1168.0 589.3 1167.5 586.9 1166.9 584.4 1166.4 582.0 1165.9 579.5 1165.3 577.1 1164.7 574.7 1164.1 572.2 1163.6 569.8 1163.0 567.4 1162.4 564.9 1161.8 562.5 1161.2 560.1 1160.6 557.7 1160.0 555.2 1159.4 552.8 1158.9 550.4 1158.3 547.9 1157.8 545.5 1157.3 543.0 1156.8 540.6 1156.3 538.2 1155.8 535.7 1155.3 533.3 1154.9 530.8 1154.4 528.4 1154.0 525.9 1153.6 523.4 1153.2 521.0 1152.9 518.5 1152.6 516.1 1152.3 513.6 1152.0 511.1 1151.7 508.7 1151.5 506.2 1151.3 503.7 1151.1 501.2 1151.0 498.8 1150.8 496.3 1150.7 493.8 1150.7 491.3 1150.7 488.8 1150.7 486.3 1150.7 483.8 1150.7 481.3 1150.8 478.8 1150.9 476.3 1151.0 473.8 1151.1 471.3 1151.3 468.8 1151.5 466.3 1151.6 463.8 1151.8 461.3 1152.1 458.7 1152.3 456.2 1152.5 453.7 1152.8 451.2 1153.1 448.7 1153.4 446.2 1153.7 443.7 1154.0 441.2 1154.3 438.7 1154.7 436.2 1155.1 433.7 1155.5 431.2 1155.9 428.8 1156.3 426.3 1156.8 423.8 1157.3 421.4 1157.8 418.9 1158.3 416.5 1158.9 414.1 1159.5 411.6 1160.1 409.2 1160.7 406.8 1161.3 404.4 1162.0 402.0 1162.7 399.7 1163.5 397.3 1164.3 395.0 1165.1 392.6 1165.9 390.3 1166.8 388.0 1167.7 385.7 1168.6 383.5 1169.6 381.2 1170.6 379.0 1171.6 376.7 1172.7 374.5 1173.8 372.3 1174.9 370.2 1176.1 368.0 1177.3 365.9 1178.6 363.8 1179.9 361.7 1181.2 359.6 1182.6 357.6 1184.0 355.5 1185.5 353.5 1187.0 351.5 1188.6 349.6 1190.2 347.7 1191.8 345.7 1193.5 343.9 1195.2 342.0 1197.0" fill="none" stroke="#0000ff" stroke-width="7.8" stroke-linejoin="bevel"/>
<path d="M342.0 1187.0 L342.1 1184.5 342.1 1182.0 342.2 1179.5 342.3 1176.9 342.4 1174.4 342.4 1171.9 342.6 1169.4 342.7 1166.9 342.8 1164.4 342.9 1161.9 343.0 1159.4 343.2 1156.9 343.4 1154.4 343.5 1151.9 343.7 1149.4 343.9 1146.9 344.1 1144.4 344.3 1141.9 344.5 1139.4 344.7 1136.9 345.0 1134.4 345.2 1131.9 345.5 1129.4 345.8 1126.9 346.0 1124.5 346.3 1122.0 346.7 1119.5 347.0 1117.0 347.3 1114.6 347.7 1112.1 348.0 1109.6 348.4 1107.2 348.8 1104.7 349.2 1102.3 349.6 1099.8 350.1 1097.4 350.5 1094.9 351.0 1092.5 351.5 1090.0 351.9 1087.6 352.5 1085.2 353.0 1082.7 353.5 1080.3 354.1 1077.9 354.6 1075.5 355.2 1073.1 355.8 1070.7 356.5 1068.3 357.1 1065.9 357.8 1063.5 358.4 1061.1 359.1 1058.7 359.8 1056.4 360.6 1054.0 361.3 1051.6 362.1 1049.3 362.9 1046.9 363.7 1044.6 364.5 1042.2 365.3 1039.9 366.2 1037.5 367.1 1035.2 368.0 1032.9 368.9 1030.6 369.8 1028.3 370.7 1026.0 371.7 1023.7 372.7 1021.4 373.7 1019.1 374.7 1016.8 375.8 1014.5 376.8 1012.2 377.9 1009.9 378.9 1007.7 380.0 1005.4 381.1 1003.1 382.3 1000.9 383.4 998.6 384.5 996.4 385.7 994.1 386.9 991.9 388.0 989.6 389.2 987.4 390.4 985.1 391.7 982.9 392.9 980.7 394.1 978.4 395.4 976.2 396.7 974.0 397.9 971.8 399.2 969.6 400.5 967.4 401.9 965.2 403.2 963.1 404.6 960.9 405.9 958.8 407.3 956.6 408.7 954.5 410.2 952.4 411.6 950.3 413.1 948.3 414.5 946.2 416.0 944.2 417.6 942.2 419.1 940.2 420.6 938.2 422.2 936.3 423.8 934.4 425.4 932.5 427.1 930.6 428.7 928.7 430.4 926.9 432.1 925.1 433.8 923.3 435.6 921.6 437.3 919.9 439.1 918.1 440.9 916.5 442.7 914.8 444.6 913.2 446.4 911.5 448.3 909.9 450.2 908.4 452.1 906.8 454.0 905.3 456.0 903.8 457.9 902.3 459.9 900.8 461.9 899.4 463.9 897.9 465.9 896.5 467.9 895.1 470.0 893.8 472.0 892.4 474.1 891.1 476.2 889.8 478.3 888.5 480.4 887.2 482.6 885.9 484.7 884.7 486.8 883.4 489.0 882.2 491.2 881.0 493.4 879.8 495.6 878.7 497.8 877.5 500.0 876.4 502.2 875.3 504.5 874.1 506.7 873.1 509.0 872.0 511.2 870.9 513.5 869.9 515.8 868.8 518.1 867.8 520.4 866.8 522.7 865.8 525.0 864.8 527.3 863.8 529.6 862.9 531.9 861.9 534.3 861.0 536.6 860.0 538.9 859.1 541.3 858.2 543.6 857.3 546.0 856.4 548.3 855.5 550.7 854.7 553.1 853.8 555.4 852.9 557.8 852.1 560.2 851.3 562.5 850.4 564.9 849.6 567.3 848.8 569.7 848.0 572.0 847.2 574.4 846.4 576.8 845.6 579.2 844.9 581.6 844.1 584.0 843.3 586.3 842.6 588.7 841.8 591.1 841.1 593.5 840.4 595.9 839.6 598.3 838.9 600.7 838.2 603.1 837.5 605.5 836.8 607.9 836.1 610.3 835.4 612.7 834.7 615.1 834.1 617.5 833.4 619.9 832.7 622.3 832.1 624.8 831.4 627.2 830.8 629.6 830.1 632.0 829.5 634.4 828.9 636.8 828.3 639.2 827.6 641.7 827.0 644.1 826.4 646.5 825.8 648.9 825.2 651.3 824.6 653.8 824.0 656.2 823.5 658.6 822.9 661.1 822.3 663.5 821.7 665.9 821.2 668.3 820.6 670.8 820.1 673.2 819.5 675.6 819.0 678.1 818.4 680.5 817.9 682.9 817.3 685.4 816.8 687.8 816.3 690.3 815.8 692.7 815.2 695.1 814.7 697.6 814.2 700.0 813.7 702.5 813.2 704.9 812.7 707.4 812.2 709.8 811.7 712.3 811.2 714.7 810.7 717.1 810.2 719.6 809.7 722.0 809.2 724.5 808.7 726.9 808.2 729.4 807.8 731.8 807.3 734.3 806.8 736.8 806.3 739.2 805.9 741.7 805.4 744.1 804.9 746.6 804.5 749.0 804.0 751.5 803.5 753.9 803.1 756.4 802.6 758.9 802.1 761.3 801.7 763.8 801.2 766.2 800.8 768.7 800.3 771.1 799.8 773.6 799.4 776.1 798.9 778.5 798.5 781.0 798.0 783.4 797.6 785.9 797.1 788.4 796.7 790.8 796.2 793.3 795.8 795.8 795.3 798.2 794.9 800.7 794.4 803.1 794.0 805.6 793.5 808.1 793.0 810.5 792.6 813.0 792.1 815.5 791.7 817.9 791.2 820.4 790.8 822.8 790.3 825.3 789.8 827.8 789.4 830.2 788.9 832.7 788.4 835.2 788.0 837.6 787.5 840.1 787.0 842.6 786.6 845.0 786.1 847.5 785.6 849.9 785.2 852.4 784.7 854.9 784.2 857.3 783.7 859.8 783.2 862.3 782.7 864.7 782.3 867.2 781.8 869.6 781.3 872.1 780.8 874.6 780.3 877.0 779.8 879.5 779.3 881.9 778.7 884.4 778.2 886.8 777.7 889.3 777.2 891.7 776.7 894.2 776.2 896.6 775.6 899.1 775.1 901.6 774.6 904.0 774.0 906.4 773.5 908.9 772.9 911.3 772.4 913.8 771.8 916.2 771.2 918.7 770.7 921.1 770.1 923.5 769.5 926.0 768.9 928.4 768.4 930.9 767.8 933.3 767.2 935.7 766.6 938.1 766.0 940.6 765.3 943.0 764.7 945.4 764.1 947.8 763.5 950.3 762.8 952.7 762.2 955.1 761.6 957.5 760.9 959.9 760.2 962.3 759.6 964.7 758.9 967.1 758.2 969.5 757.5 971.9 756.9 974.3 756.2 976.7 755.5 979.1 754.7 981.5 754.0 983.9 753.3 986.3 752.6 988.7 751.8 991.0 751.1 993.4 750.3 995.8 749.6 998.2 748.8 1000.5 748.0 1002.9 747.2 1005.3 746.5 1007.6 745.7 1010.0 744.8 1012.3 744.0 1014.7 743.2 1017.0 742.4 1019.4 741.5 1021.7 740.7 1024.0 739.8 1026.4 739.0 1028.7 738.1 1031.0 737.2 1033.3 736.3 1035.7 735.4 1038.0 734.5 1040.3 733.6 1042.6 732.6 1044.9 731.7 1047.2 730.8 1049.5 729.8 1051.8 728.8 1054.1 727.8 1056.4 726.9 1058.6 725.9 1060.9 724.9 1063.2 723.8 1065.5 722.8 1067.7 721.8 1070.0 720.7 1072.2 719.7 1074.5 718.6 1076.7 717.5 1079.0 716.4 1081.2 715.3 1083.4 714.2 1085.7 713.1 1087.9 711.9 1090.1 710.8 1092.3 709.6 1094.5 708.5 1096.7 707.3 1098.9 706.1 1101.1 704.9 1103.3 703.7 1105.5 702.4 1107.7 701.2 1109.9 700.0 1112.0 698.7 1114.2 697.4 1116.3 696.2 1118.5 694.9 1120.6 693.6 1122.8 692.3 1124.9 690.9 1127.0 689.6 1129.2 688.3 1131.3 686.9 1133.4 685.6 1135.5 684.2 1137.6 682.8 1139.6 681.5 1141.7 680.1 1143.8 678.7 1145.9 677.3 1147.9 675.8 1150.0 674.4 1152.0 673.0 1154.0 671.5 1156.1 670.1 1158.1 668.6 1160.1 667.2 1162.1 665.7 1164.1 664.2 1166.2 662.7 1168.2 661.2 1170.1 659.7 1172.1 658.2 1174.1 656.7 1176.1 655.2 1178.1 653.7 1180.0 652.1 1182.0 650.6 1184.0 649.1 1185.9 647.5 1187.9 646.0 1189.9 644.4 1191.8 642.9 1193.8 641.3 1195.7 639.8 1197.6 638.2 1199.6 636.6 1201.5 635.0 1203.5 633.5 1205.4 631.9 1207.3 630.3 1209.2 628.7 1211.2 627.1 1213.1 625.5 1215.0 623.9 1216.9 622.4 1218.9 620.8 1220.8 619.2 1222.7 617.6 1224.6 616.0 1226.6 614.4 1228.5 612.8 1230.4 611.2 1232.3 609.6 1234.2 608.0 1236.2 606.4 1238.1 604.8 1240.0 603.2 1241.9 601.6 1243.9 600.0 1245.8 598.4 1247.7 596.8 1249.7 595.2 1251.6 593.6 1253.5 592.0 1255.5 590.4 1257.4 588.8 1259.3 587.2 1261.3 585.7 1263.2 584.1 1265.1 582.5 1267.1 580.9 1269.0 579.3 1271.0 577.7 1272.9 576.2 1274.9 574.6 1276.8 573.0 1278.8 571.5 1280.7 569.9 1282.7 568.3 1284.6 566.7 1286.6 565.2 1288.5 563.6 1290.5 562.1 1292.5 560.5 1294.4 559.0 1296.4 557.4 1298.4 555.9 1300.3 554.3 1302.3 552.8 1304.3 551.2 1306.2 549.7 1308.2 548.1 1310.2 546.6 1312.2 545.1 1314.2 543.6 1316.1 542.0 1318.1 540.5 1320.1 539.0 1322.1 537.5 1324.1 536.0 1326.1 534.5 1328.1 533.0 1330.1 531.4 1332.1 530.0 1334.1 528.5 1336.1 527.0 1338.1 525.5 1340.1 524.0 1342.2 522.5 1344.2 521.0 1346.2 519.6 1348.2 518.1 1350.2 516.6 1352.3 515.2 1354.3 513.7 1356.3 512.3 1358.4 510.8 1360.4 509.4 1362.4 507.9 1364.5 506.5 1366.5 505.1 1368.6 503.6 1370.6 502.2 1372.7 500.8 1374.7 499.4 1376.8 498.0 1378.9 496.6 1380.9 495.2 1383.0 493.8 1385.1 492.4 1387.1 491.0 1389.2 489.6 1391.3 488.2 1393.4 486.9 1395.5 485.5 1397.6 484.1 1399.7 482.8 1401.8 481.4 1403.9 480.1 1406.0 478.8 1408.1 477.4 1410.2 476.1 1412.3 474.8 1414.4 473.5 1416.5 472.1 1418.7 470.8 1420.8 469.5 1422.9 468.3 1425.0 467.0 1427.2 465.7 1429.3 464.4 1431.5 463.1 1433.6 461.9 1435.8 460.6 1437.9 459.4 1440.1 458.1 1442.3 456.9 1444.4 455.7 1446.6 454.4 1448.8 453.2 1450.9 452.0 1453.1 450.8 1455.3 449.6 1457.5 448.4 1459.7 447.2 1461.9 446.1 1464.1 444.9 1466.3 443.7 1468.5 442.6 1470.7 441.4 1473.0 440.3 1475.2 439.2 1477.4 438.0 1479.6 436.9 1481.9 435.8 1484.1 434.7 1486.3 433.6 1488.6 432.5 1490.8 431.4 1493.1 430.3 1495.3 429.2 1497.6 428.2 1499.9 427.1 1502.1 426.0 1504.4 425.0 1506.7 423.9 1508.9 422.8 1511.2 421.8 1513.5 420.8 1515.7 419.7 1518.0 418.7 1520.3 417.6 1522.6 416.6 1524.9 415.6 1527.1 414.5 1529.4 413.5 1531.7 412.5 1534.0 411.5 1536.3 410.5 1538.6 409.4 1540.9 408.4 1543.2 407.4 1545.5 406.4 1547.8 405.4 1550.0 404.4 1552.3 403.3 1554.6 402.3 1556.9 401.3 1559.2 400.3 1561.5 399.3 1563.8 398.3 1566.1 397.3 1568.4 396.2 1570.7 395.2 1573.0 394.2 1575.3 393.2 1577.6 392.2 1579.8 391.1 1582.1 390.1 1584.4 389.1 1586.7 388.1 1589.0 387.0 1591.3 386.0 1593.5 384.9 1595.8 383.9 1598.1 382.9 1600.4 381.8 1602.6 380.7 1604.9 379.7 1607.2 378.6 1609.4 377.6 1611.7 376.5 1614.0 375.4 1616.2 374.3 1618.5 373.2 1620.7 372.1 1623.0 371.0 1625.2 369.9 1627.4 368.8 1629.7 367.7 1631.9 366.6 1634.1 365.5 1636.4 364.3 1638.6 363.2 1640.8 362.0 1643.0 360.9 1645.3 359.7 1647.5 358.6 1649.7 357.4 1651.9 356.2 1654.1 355.0 1656.3 353.8 1658.5 352.6 1660.7 351.5 1662.9 350.2 1665.0 349.0 1667.2 347.8 1669.4 346.6 1671.6 345.4 1673.8 344.2 1675.9 342.9 1678.1 341.7 1680.3 340.4 1682.4 339.2 1684.6 337.9 1686.7 336.7 1688.9 335.4 1691.1 334.1 1693.2 332.9 1695.3 331.6 1697.5 330.3 1699.6 329.0 1701.8 327.7 1703.9 326.4 1706.0 325.1 1708.2 323.8 1710.3 322.5 1712.4 321.2 1714.5 319.9 1716.7 318.6 1718.8 317.2 1720.9 315.9 1723.0 314.6 1725.1 313.2 1727.2 311.9 1729.3 310.5 1731.4 309.2 1733.5 307.8 1735.6 306.4 1737.7 305.1 1739.8 303.7 1741.9 302.3 1744.0 300.9 1746.1 299.5 1748.1 298.2 1750.2 296.7 1752.3 295.3 1754.3 293.9 1756.4 292.5 1758.4 291.1 1760.5 289.6 1762.5 288.2 1764.5 286.8 1766.6 285.3 1768.6 283.8 1770.6 282.4 1772.6 280.9 1774.6 279.4 1776.6 277.9 1778.6 276.4 1780.6 274.9 1782.6 273.4 1784.6 271.9 1786.6 270.3 1788.5 268.8 1790.5 267.3 1792.4 265.7 1794.4 264.1 1796.3 262.6 1798.2 261.0 1800.2 259.4 1802.1 257.8 1804.0 256.2 1805.9 254.6 1807.8 252.9 1809.6 251.3 1811.5 249.6 1813.4 248.0 1815.2 246.3 1817.1 244.6 1818.9 242.9 1820.7 241.2 1822.6 239.5 1824.4 237.8 1826.2 236.0 1828.0 234.3 1829.7 232.5 1831.5 230.8 1833.3 229.0 1835.0 227.2 1836.8 225.4 1838.5 223.6 1840.2 221.7 1841.9 219.9 1843.6 218.0 1845.3 216.2 1847.0 214.3 1848.6 212.4 1850.3 210.5 L1850.1 213.0 1849.8 215.5 1849.5 217.9 1849.3 220.4 1849.0 222.9 1848.8 225.4 1848.5 227.9 1848.3 230.3 1848.0 232.8 1847.7 235.3 1847.5 237.8 1847.2 240.3 1846.9 242.8 1846.6 245.2 1846.4 247.7 1846.1 250.2 1845.8 252.7 1845.5 255.2 1845.2 257.7 1844.9 260.1 1844.6 262.6 1844.3 265.1 1844.0 267.6 1843.7 270.1 1843.4 272.5 1843.1 275.0 1842.8 277.5 1842.5 280.0 1842.2 282.5 1841.9 284.9 1841.6 287.4 1841.2 289.9 1840.9 292.4 1840.6 294.9 1840.2 297.3 1839.9 299.8 1839.6 302.3 1839.2 304.8 1838.9 307.3 1838.5 309.7 1838.2 312.2 1837.8 314.7 1837.5 317.2 1837.1 319.6 1836.7 322.1 1836.4 324.6 1836.0 327.1 1835.6 329.5 1835.2 332.0 1834.8 334.5 1834.5 337.0 1834.1 339.4 1833.7 341.9 1833.3 344.4 1832.9 346.8 1832.5 349.3 1832.1 351.8 1831.6 354.2 1831.2 356.7 1830.8 359.2 1830.4 361.6 1829.9 364.1 1829.5 366.6 1829.1 369.0 1828.6 371.5 1828.2 373.9 1827.7 376.4 1827.3 378.9 1826.8 381.3 1826.3 383.8 1825.9 386.2 1825.4 388.7 1824.9 391.1 1824.4 393.6 1823.9 396.0 1823.4 398.5 1822.9 400.9 1822.4 403.4 1821.9 405.8 1821.4 408.3 1820.9 410.7 1820.4 413.1 1819.8 415.6 1819.3 418.0 1818.8 420.5 1818.2 422.9 1817.7 425.3 1817.1 427.8 1816.6 430.2 1816.0 432.6 1815.4 435.1 1814.9 437.5 1814.3 439.9 1813.7 442.4 1813.1 444.8 1812.5 447.2 1811.9 449.6 1811.3 452.0 1810.7 454.5 1810.1 456.9 1809.5 459.3 1808.8 461.7 1808.2 464.1 1807.5 466.5 1806.9 468.9 1806.2 471.3 1805.6 473.8 1804.9 476.2 1804.2 478.6 1803.6 481.0 1802.9 483.4 1802.2 485.8 1801.5 488.1 1800.8 490.5 1800.1 492.9 1799.4 495.3 1798.7 497.7 1797.9 500.1 1797.2 502.5 1796.5 504.9 1795.7 507.2 1795.0 509.6 1794.2 512.0 1793.4 514.4 1792.7 516.7 1791.9 519.1 1791.1 521.5 1790.3 523.8 1789.5 526.2 1788.7 528.6 1787.9 530.9 1787.1 533.3 1786.2 535.6 1785.4 538.0 1784.6 540.3 1783.7 542.7 1782.9 545.0 1782.0 547.4 1781.1 549.7 1780.3 552.1 1779.4 554.4 1778.5 556.7 1777.6 559.1 1776.7 561.4 1775.8 563.7 1774.8 566.0 1773.9 568.4 1773.0 570.7 1772.0 573.0 1771.1 575.3 1770.1 577.6 1769.2 579.9 1768.2 582.2 1767.2 584.5 1766.2 586.8 1765.2 589.1 1764.2 591.4 1763.2 593.7 1762.2 596.0 1761.2 598.3 1760.1 600.6 1759.1 602.9 1758.0 605.2 1757.0 607.4 1755.9 609.7 1754.8 612.0 1753.7 614.2 1752.7 616.5 1751.6 618.8 1750.5 621.0 1749.3 623.3 1748.2 625.5 1747.1 627.8 1746.0 630.0 1744.8 632.2 1743.7 634.5 1742.5 636.7 1741.4 638.9 1740.2 641.1 1739.0 643.3 1737.8 645.5 1736.6 647.7 1735.4 649.9 1734.2 652.1 1733.0 654.3 1731.8 656.5 1730.6 658.7 1729.3 660.9 1728.1 663.0 1726.9 665.2 1725.6 667.4 1724.4 669.5 1723.1 671.6 1721.8 673.8 1720.5 675.9 1719.3 678.1 1718.0 680.2 1716.7 682.3 1715.4 684.4 1714.0 686.5 1712.7 688.6 1711.4 690.7 1710.1 692.8 1708.7 694.9 1707.4 696.9 1706.0 699.0 1704.7 701.1 1703.3 703.1 1702.0 705.1 1700.6 707.2 1699.1 709.2 1697.7 711.1 1696.2 713.0 1694.6 714.9 1693.0 716.8 1691.4 718.6 1689.8 720.5 1688.1 722.3 1686.4 724.1 1684.7 725.8 1683.0 727.6 1681.3 729.3 1679.5 731.1 1677.8 732.8 1676.0 734.6 1674.3 736.3 1672.5 738.1 1670.8 739.9 1669.0 741.6 1667.3 743.4 1665.6 745.2 1663.9 747.1 1662.2 748.9 1660.5 750.7 1658.8 752.6 1657.1 754.5 1655.5 756.3 1653.8 758.2 1652.1 760.1 1650.5 762.0 1648.8 763.9 1647.2 765.8 1645.5 767.7 1643.9 769.6 1642.2 771.5 1640.6 773.4 1638.9 775.3 1637.3 777.2 1635.6 779.1 1634.0 781.0 1632.3 782.9 1630.6 784.8 1629.0 786.7 1627.3 788.5 1625.7 790.4 1624.0 792.3 1622.3 794.2 1620.6 796.0 1618.9 797.8 1617.2 799.7 1615.5 801.5 1613.8 803.3 1612.1 805.1 1610.3 806.9 1608.6 808.7 1606.8 810.4 1605.1 812.2 1603.3 814.0 1601.5 815.7 1599.8 817.4 1598.0 819.2 1596.2 820.9 1594.4 822.6 1592.6 824.3 1590.8 826.0 1589.0 827.7 1587.1 829.3 1585.3 831.0 1583.5 832.7 1581.7 834.4 1579.8 836.0 1578.0 837.7 1576.2 839.4 1574.3 841.0 1572.5 842.7 1570.6 844.3 1568.8 846.0 1566.9 847.6 1565.0 849.3 1563.2 850.9 1561.3 852.5 1559.5 854.2 1557.6 855.8 1555.7 857.5 1553.8 859.1 1552.0 860.7 1550.1 862.4 1548.2 864.0 1546.3 865.6 1544.4 867.3 1542.6 868.9 1540.7 870.5 1538.8 872.1 1536.9 873.7 1535.0 875.4 1533.1 877.0 1531.2 878.6 1529.3 880.2 1527.4 881.8 1525.5 883.4 1523.5 885.0 1521.6 886.6 1519.7 888.2 1517.8 889.8 1515.9 891.4 1513.9 893.0 1512.0 894.6 1510.1 896.2 1508.2 897.8 1506.2 899.4 1504.3 901.0 1502.4 902.5 1500.4 904.1 1498.5 905.7 1496.5 907.3 1494.6 908.8 1492.6 910.4 1490.7 912.0 1488.7 913.5 1486.8 915.1 1484.8 916.6 1482.8 918.2 1480.9 919.7 1478.9 921.3 1476.9 922.8 1475.0 924.4 1473.0 925.9 1471.0 927.5 1469.0 929.0 1467.0 930.5 1465.1 932.1 1463.1 933.6 1461.1 935.1 1459.1 936.6 1457.1 938.2 1455.1 939.7 1453.1 941.2 1451.1 942.7 1449.1 944.2 1447.1 945.7 1445.1 947.2 1443.1 948.7 1441.0 950.2 1439.0 951.7 1437.0 953.2 1435.0 954.7 1433.0 956.2 1430.9 957.6 1428.9 959.1 1426.9 960.6 1424.8 962.0 1422.8 963.5 1420.8 965.0 1418.7 966.4 1416.7 967.9 1414.6 969.3 1412.6 970.8 1410.5 972.2 1408.5 973.7 1406.4 975.1 1404.4 976.5 1402.3 978.0 1400.2 979.4 1398.2 980.8 1396.1 982.2 1394.0 983.7 1392.0 985.1 1389.9 986.5 1387.8 987.9 1385.7 989.3 1383.6 990.7 1381.6 992.1 1379.5 993.5 1377.4 994.8 1375.3 996.2 1373.2 997.6 1371.1 999.0 1369.0 1000.3 1366.9 1001.7 1364.8 1003.1 1362.7 1004.4 1360.6 1005.8 1358.4 1007.1 1356.3 1008.5 1354.2 1009.8 1352.1 1011.2 1350.0 1012.5 1347.8 1013.8 1345.7 1015.1 1343.6 1016.5 1341.5 1017.8 1339.3 1019.1 1337.2 1020.4 1335.0 1021.7 1332.9 1023.0 1330.7 1024.3 1328.6 1025.6 1326.5 1026.9 1324.3 1028.1 1322.1 1029.4 1320.0 1030.7 1317.8 1032.0 1315.7 1033.2 1313.5 1034.5 1311.3 1035.7 1309.2 1037.0 1307.0 1038.2 1304.8 1039.5 1302.6 1040.7 1300.5 1041.9 1298.3 1043.1 1296.1 1044.4 1293.9 1045.6 1291.7 1046.8 1289.5 1048.0 1287.3 1049.2 1285.1 1050.4 1282.9 1051.6 1280.7 1052.8 1278.5 1053.9 1276.3 1055.1 1274.1 1056.3 1271.9 1057.4 1269.7 1058.6 1267.4 1059.8 1265.2 1060.9 1263.0 1062.1 1260.8 1063.2 1258.6 1064.3 1256.3 1065.5 1254.1 1066.6 1251.9 1067.7 1249.6 1068.8 1247.4 1069.9 1245.1 1071.0 1242.9 1072.1 1240.6 1073.2 1238.4 1074.3 1236.1 1075.4 1233.9 1076.4 1231.6 1077.5 1229.4 1078.6 1227.1 1079.6 1224.8 1080.7 1222.6 1081.7 1220.3 1082.8 1218.0 1083.8 1215.8 1084.8 1213.5 1085.9 1211.2 1086.9 1208.9 1087.9 1206.6 1088.9 1204.3 1089.9 1202.0 1090.9 1199.8 1091.9 1197.5 1092.9 1195.2 1093.8 1192.9 1094.8 1190.6 1095.8 1188.3 1096.7 1185.9 1097.7 1183.6 1098.6 1181.3 1099.6 1179.0 1100.5 1176.7 1101.4 1174.4 1102.4 1172.0 1103.3 1169.7 1104.2 1167.4 1105.1 1165.1 1106.0 1162.7 1106.9 1160.4 1107.8 1158.1 1108.7 1155.7 1109.5 1153.4 1110.4 1151.0 1111.3 1148.7 1112.1 1146.3 1113.0 1144.0 1113.8 1141.6 1114.6 1139.3 1115.5 1136.9 1116.3 1134.5 1117.1 1132.2 1117.9 1129.8 1118.7 1127.4 1119.5 1125.1 1120.2 1122.7 1121.0 1120.3 1121.8 1117.9 1122.5 1115.5 1123.3 1113.2 1124.0 1110.8 1124.8 1108.4 1125.5 1106.0 1126.2 1103.6 1126.9 1101.2 1127.6 1098.8 1128.3 1096.4 1129.0 1094.0 1129.6 1091.6 1130.3 1089.2 1130.9 1086.8 1131.6 1084.4 1132.2 1082.0 1132.8 1079.5 1133.4 1077.1 1134.0 1074.7 1134.6 1072.3 1135.2 1069.9 1135.8 1067.4 1136.3 1065.0 1136.9 1062.6 1137.4 1060.1 1137.9 1057.7 1138.4 1055.3 1138.9 1052.8 1139.4 1050.4 1139.9 1047.9 1140.4 1045.5 1140.8 1043.0 1141.3 1040.6 1141.7 1038.1 1142.1 1035.7 1142.6 1033.2 1143.0 1030.8 1143.4 1028.3 1143.8 1025.9 1144.1 1023.4 1144.5 1020.9 1144.9 1018.5 1145.2 1016.0 1145.5 1013.5 1145.9 1011.1 1146.2 1008.6 1146.5 1006.1 1146.8 1003.6 1147.1 1001.2 1147.4 998.7 1147.7 996.2 1148.0 993.7 1148.2 991.2 1148.5 988.8 1148.7 986.3 1149.0 983.8 1149.2 981.3 1149.5 978.8 1149.7 976.3 1149.9 973.8 1150.1 971.3 1150.3 968.8 1150.6 966.4 1150.8 963.9 1150.9 961.4 1151.1 958.9 1151.3 956.4 1151.5 953.9 1151.7 951.4 1151.8 948.9 1152.0 946.4 1152.2 943.9 1152.3 941.4 1152.5 938.9 1152.6 936.4 1152.8 933.9 1152.9 931.4 1153.1 928.8 1153.2 926.3 1153.4 923.8 1153.5 921.3 1153.6 918.8 1153.8 916.3 1153.9 913.8 1154.0 911.3 1154.1 908.8 1154.3 906.3 1154.4 903.8 1154.5 901.3 1154.6 898.7 1154.7 896.2 1154.9 893.7 1155.0 891.2 1155.1 888.7 1155.2 886.2 1155.3 883.7 1155.5 881.2 1155.6 878.7 1155.7 876.2 1155.8 873.6 1155.9 871.1 1156.1 868.6 1156.2 866.1 1156.3 863.6 1156.5 861.1 1156.6 858.6 1156.7 856.1 1156.9 853.6 1157.0 851.1 1157.1 848.6 1157.3 846.1 1157.4 843.5 1157.6 841.0 1157.7 838.5 1157.8 836.0 1158.0 833.5 1158.1 831.0 1158.3 828.5 1158.4 826.0 1158.6 823.5 1158.7 821.0 1158.9 818.5 1159.0 816.0 1159.2 813.5 1159.3 811.0 1159.5 808.5 1159.6 806.0 1159.7 803.5 1159.9 801.0 1160.0 798.5 1160.2 796.0 1160.3 793.5 1160.4 791.0 1160.6 788.5 1160.7 786.0 1160.8 783.5 1160.9 781.0 1161.0 778.5 1161.2 776.0 1161.3 773.5 1161.4 771.0 1161.5 768.5 1161.6 766.0 1161.7 763.5 1161.8 761.0 1161.9 758.5 1161.9 756.0 1162.0 753.5 1162.1 751.0 1162.2 748.5 1162.2 746.0 1162.3 743.6 1162.3 741.1 1162.4 738.6 1162.4 736.1 1162.4 733.6 1162.5 731.1 1162.5 728.6 1162.5 726.1 1162.5 723.6 1162.5 721.1 1162.5 718.7 1162.5 716.2 1162.4 713.7 1162.4 711.2 1162.4 708.7 1162.3 706.2 1162.3 703.7 1162.2 701.2 1162.1 698.8 1162.0 696.3 1161.9 693.8 1161.8 691.3 1161.7 688.8 1161.6 686.3 1161.5 683.9 1161.3 681.4 1161.2 678.9 1161.0 676.4 1160.9 673.9 1160.7 671.4 1160.5 669.0 1160.3 666.5 1160.1 664.0 1159.9 661.5 1159.6 659.0 1159.4 656.6 1159.2 654.1 1158.9 651.6 1158.6 649.1 1158.4 646.7 1158.1 644.2 1157.8 641.7 1157.5 639.2 1157.2 636.7 1156.9 634.3 1156.6 631.8 1156.3 629.3 1156.0 626.8 1155.7 624.4 1155.4 621.9 1155.0 619.4 1154.7 616.9 1154.3 614.5 1154.0 612.0 1153.6 609.5 1153.3 607.0 1152.9 604.6 1152.6 602.1 1152.2 599.6 1151.8 597.1 1151.5 594.7 1151.1 592.2 1150.7 589.7 1150.4 587.2 1150.0 584.8 1149.6 582.3 1149.2 579.8 1148.8 577.3 1148.5 574.9 1148.1 572.4 1147.7 569.9 1147.3 567.4 1146.9 565.0 1146.6 562.5 1146.2 560.0 1145.8 557.5 1145.4 555.1 1145.1 552.6 1144.7 550.1 1144.3 547.6 1144.0 545.2 1143.6 542.7 1143.2 540.2 1142.9 537.7 1142.6 535.2 1142.2 532.8 1141.9 530.3 1141.6 527.8 1141.3 525.3 1141.0 522.8 1140.7 520.4 1140.4 517.9 1140.1 515.4 1139.9 512.9 1139.7 510.4 1139.4 508.0 1139.2 505.5 1139.0 503.0 1138.8 500.5 1138.7 498.0 1138.5 495.6 1138.4 493.1 1138.3 490.6 1138.2 488.1 1138.1 485.6 1138.1 483.2 1138.1 480.7 1138.1 478.2 1138.1 475.7 1138.1 473.2 1138.2 470.7 1138.3 468.2 1138.4 465.8 1138.5 463.3 1138.7 460.8 1138.9 458.3 1139.1 455.8 1139.4 453.3 1139.7 450.9 1140.0 448.4 1140.3 445.9 1140.7 443.4 1141.1 440.9 1141.5 438.5 1141.9 436.0 1142.4 433.5 1142.9 431.1 1143.5 428.6 1144.0 426.2 1144.6 423.7 1145.2 421.3 1145.9 418.9 1146.5 416.4 1147.2 414.0 1147.9 411.6 1148.7 409.2 1149.5 406.8 1150.3 404.5 1151.1 402.1 1152.0 399.7 1152.9 397.4 1153.8 395.1 1154.7 392.8 1155.7 390.4 1156.7 388.2 1157.7 385.9 1158.8 383.6 1159.9 381.4 1161.0 379.1 1162.1 376.9 1163.2 374.7 1164.4 372.5 1165.6 370.3 1166.9 368.2 1168.2 366.1 1169.4 363.9 1170.8 361.8 1172.1 359.8 1173.5 357.7 1174.9 355.7 1176.3 353.6 1177.7 351.6 1179.2 349.7 1180.7 347.7 1182.3 345.8 1183.8 343.9 1185.4 342.0 1187.0" fill="none" stroke="#008000" stroke-width="7.8" stroke-linejoin="bevel"/>
<path d="M342.0 1176.0 L342.1 1173.5 342.3 1171.0 342.5 1168.5 342.6 1166.0 342.8 1163.5 343.0 1161.0 343.2 1158.5 343.4 1156.0 343.6 1153.5 343.9 1151.0 344.1 1148.6 344.4 1146.1 344.6 1143.6 344.9 1141.1 345.1 1138.6 345.4 1136.1 345.7 1133.7 346.0 1131.2 346.3 1128.7 346.7 1126.3 347.0 1123.8 347.4 1121.3 347.7 1118.9 348.1 1116.4 348.5 1113.9 348.8 1111.5 349.2 1109.0 349.7 1106.6 350.1 1104.1 350.5 1101.7 351.0 1099.2 351.4 1096.8 351.9 1094.3 352.4 1091.9 352.9 1089.4 353.4 1087.0 353.9 1084.6 354.4 1082.1 355.0 1079.7 355.5 1077.3 356.1 1074.8 356.7 1072.4 357.3 1070.0 357.9 1067.6 358.5 1065.2 359.2 1062.8 359.8 1060.3 360.5 1057.9 361.2 1055.5 361.8 1053.1 362.6 1050.7 363.3 1048.3 364.0 1045.9 364.8 1043.5 365.5 1041.2 366.3 1038.8 367.1 1036.4 367.9 1034.0 368.7 1031.6 369.6 1029.3 370.4 1026.9 371.3 1024.5 372.2 1022.2 373.1 1019.8 374.0 1017.5 374.9 1015.1 375.9 1012.8 376.8 1010.4 377.8 1008.1 378.8 1005.8 379.8 1003.5 380.9 1001.2 381.9 998.9 383.0 996.6 384.0 994.3 385.1 992.0 386.2 989.8 387.4 987.5 388.5 985.3 389.7 983.0 390.8 980.8 392.0 978.6 393.2 976.4 394.5 974.2 395.7 972.0 397.0 969.9 398.2 967.7 399.5 965.5 400.8 963.4 402.2 961.3 403.5 959.2 404.9 957.1 406.3 955.0 407.7 952.9 409.1 950.9 410.5 948.8 412.0 946.8 413.4 944.8 414.9 942.8 416.4 940.8 418.0 938.8 419.5 936.9 421.1 935.0 422.7 933.1 424.3 931.2 425.9 929.3 427.5 927.4 429.2 925.6 430.9 923.7 432.6 921.9 434.3 920.1 436.0 918.4 437.7 916.6 439.5 914.9 441.3 913.1 443.1 911.4 444.9 909.8 446.8 908.1 448.6 906.5 450.5 904.8 452.4 903.2 454.3 901.6 456.2 900.1 458.1 898.5 460.1 897.0 462.0 895.5 464.0 894.0 466.0 892.6 468.0 891.1 470.1 889.7 472.1 888.3 474.2 886.9 476.2 885.6 478.3 884.2 480.4 882.9 482.6 881.6 484.7 880.3 486.8 879.1 489.0 877.9 491.2 876.7 493.4 875.5 495.6 874.3 497.8 873.2 500.0 872.0 502.2 870.9 504.5 869.8 506.7 868.8 509.0 867.7 511.3 866.7 513.6 865.7 515.9 864.7 518.2 863.7 520.5 862.7 522.8 861.7 525.1 860.8 527.4 859.9 529.8 859.0 532.1 858.1 534.5 857.2 536.8 856.3 539.2 855.4 541.6 854.6 543.9 853.7 546.3 852.9 548.7 852.1 551.1 851.3 553.5 850.5 555.9 849.7 558.3 848.9 560.6 848.1 563.0 847.4 565.4 846.6 567.8 845.9 570.2 845.1 572.6 844.4 575.0 843.6 577.4 842.9 579.8 842.2 582.2 841.5 584.7 840.8 587.1 840.1 589.5 839.4 591.9 838.7 594.3 838.1 596.7 837.4 599.1 836.7 601.5 836.1 604.0 835.4 606.4 834.8 608.8 834.2 611.2 833.5 613.6 832.9 616.1 832.3 618.5 831.7 620.9 831.1 623.3 830.5 625.8 829.9 628.2 829.3 630.6 828.7 633.1 828.2 635.5 827.6 637.9 827.0 640.4 826.5 642.8 825.9 645.2 825.4 647.7 824.8 650.1 824.3 652.5 823.7 655.0 823.2 657.4 822.7 659.9 822.2 662.3 821.6 664.7 821.1 667.2 820.6 669.6 820.1 672.1 819.6 674.5 819.1 677.0 818.6 679.4 818.1 681.9 817.7 684.3 817.2 686.8 816.7 689.2 816.2 691.7 815.8 694.1 815.3 696.6 814.8 699.0 814.4 701.5 813.9 703.9 813.5 706.4 813.0 708.8 812.6 711.3 812.1 713.8 811.7 716.2 811.2 718.7 810.8 721.1 810.3 723.6 809.9 726.0 809.5 728.5 809.1 731.0 808.6 733.4 808.2 735.9 807.8 738.3 807.4 740.8 806.9 743.3 806.5 745.7 806.1 748.2 805.7 750.7 805.3 753.1 804.9 755.6 804.5 758.0 804.0 760.5 803.6 763.0 803.2 765.4 802.8 767.9 802.4 770.4 802.0 772.8 801.6 775.3 801.2 777.8 800.8 780.2 800.4 782.7 800.0 785.2 799.6 787.6 799.2 790.1 798.8 792.6 798.4 795.0 798.0 797.5 797.6 800.0 797.2 802.4 796.8 804.9 796.4 807.4 796.0 809.8 795.6 812.3 795.2 814.8 794.8 817.2 794.4 819.7 794.0 822.2 793.6 824.6 793.1 827.1 792.7 829.5 792.3 832.0 791.9 834.5 791.5 836.9 791.1 839.4 790.7 841.9 790.3 844.3 789.8 846.8 789.4 849.3 789.0 851.7 788.6 854.2 788.1 856.6 787.7 859.1 787.3 861.6 786.8 864.0 786.4 866.5 786.0 869.0 785.5 871.4 785.1 873.9 784.6 876.3 784.2 878.8 783.7 881.3 783.3 883.7 782.8 886.2 782.4 888.6 781.9 891.1 781.4 893.5 781.0 896.0 780.5 898.4 780.0 900.9 779.5 903.3 779.0 905.8 778.6 908.3 778.1 910.7 777.6 913.2 777.1 915.6 776.6 918.1 776.1 920.5 775.5 923.0 775.0 925.4 774.5 927.8 774.0 930.3 773.4 932.7 772.9 935.2 772.4 937.6 771.8 940.1 771.3 942.5 770.7 944.9 770.2 947.4 769.6 949.8 769.0 952.3 768.4 954.7 767.9 957.1 767.3 959.6 766.7 962.0 766.1 964.4 765.5 966.9 764.9 969.3 764.2 971.7 763.6 974.1 763.0 976.5 762.4 979.0 761.7 981.4 761.1 983.8 760.4 986.2 759.7 988.6 759.1 991.0 758.4 993.4 757.7 995.8 757.0 998.2 756.3 1000.6 755.6 1003.0 754.9 1005.4 754.2 1007.8 753.4 1010.2 752.7 1012.6 752.0 1015.0 751.2 1017.4 750.4 1019.7 749.7 1022.1 748.9 1024.5 748.1 1026.8 747.3 1029.2 746.5 1031.6 745.7 1033.9 744.9 1036.3 744.0 1038.6 743.2 1041.0 742.3 1043.3 741.5 1045.6 740.6 1048.0 739.7 1050.3 738.8 1052.6 737.9 1055.0 737.0 1057.3 736.1 1059.6 735.2 1061.9 734.2 1064.2 733.3 1066.5 732.3 1068.8 731.3 1071.1 730.4 1073.4 729.4 1075.6 728.4 1077.9 727.4 1080.2 726.3 1082.4 725.3 1084.7 724.2 1086.9 723.2 1089.2 722.1 1091.4 721.0 1093.7 719.9 1095.9 718.8 1098.1 717.7 1100.4 716.6 1102.6 715.4 1104.8 714.3 1107.0 713.1 1109.2 712.0 1111.4 710.8 1113.6 709.6 1115.8 708.4 1118.0 707.2 1120.1 706.0 1122.3 704.8 1124.5 703.5 1126.6 702.3 1128.8 701.1 1131.0 699.8 1133.1 698.6 1135.3 697.3 1137.4 696.0 1139.6 694.7 1141.7 693.5 1143.8 692.2 1146.0 690.9 1148.1 689.6 1150.2 688.3 1152.3 687.0 1154.5 685.6 1156.6 684.3 1158.7 683.0 1160.8 681.7 1162.9 680.3 1165.0 679.0 1167.1 677.6 1169.2 676.3 1171.3 674.9 1173.4 673.5 1175.5 672.2 1177.6 670.8 1179.6 669.4 1181.7 668.0 1183.8 666.7 1185.9 665.3 1187.9 663.9 1190.0 662.5 1192.1 661.1 1194.1 659.7 1196.2 658.3 1198.3 656.8 1200.3 655.4 1202.4 654.0 1204.4 652.6 1206.5 651.1 1208.5 649.7 1210.6 648.3 1212.6 646.8 1214.7 645.4 1216.7 643.9 1218.7 642.5 1220.8 641.0 1222.8 639.6 1224.8 638.1 1226.9 636.7 1228.9 635.2 1230.9 633.7 1233.0 632.3 1235.0 630.8 1237.0 629.3 1239.0 627.9 1241.1 626.4 1243.1 624.9 1245.1 623.4 1247.1 621.9 1249.1 620.5 1251.1 619.0 1253.2 617.5 1255.2 616.0 1257.2 614.5 1259.2 613.0 1261.2 611.5 1263.2 610.0 1265.2 608.5 1267.2 607.0 1269.2 605.5 1271.2 604.0 1273.2 602.5 1275.2 601.0 1277.3 599.5 1279.3 598.0 1281.3 596.5 1283.3 595.0 1285.3 593.5 1287.3 592.0 1289.3 590.5 1291.3 589.0 1293.3 587.5 1295.3 586.0 1297.3 584.5 1299.3 583.0 1301.3 581.5 1303.3 580.0 1305.3 578.5 1307.3 577.0 1309.3 575.5 1311.3 574.0 1313.3 572.5 1315.3 571.0 1317.3 569.5 1319.3 568.0 1321.3 566.5 1323.4 565.0 1325.4 563.5 1327.4 562.0 1329.4 560.5 1331.4 559.0 1333.4 557.5 1335.4 556.0 1337.4 554.5 1339.4 553.0 1341.5 551.6 1343.5 550.1 1345.5 548.6 1347.5 547.1 1349.5 545.7 1351.6 544.2 1353.6 542.7 1355.6 541.2 1357.6 539.8 1359.7 538.3 1361.7 536.9 1363.7 535.4 1365.8 534.0 1367.8 532.5 1369.8 531.1 1371.9 529.6 1373.9 528.2 1375.9 526.7 1378.0 525.3 1380.0 523.9 1382.1 522.4 1384.1 521.0 1386.2 519.6 1388.2 518.2 1390.3 516.7 1392.4 515.3 1394.4 513.9 1396.5 512.5 1398.5 511.1 1400.6 509.7 1402.7 508.3 1404.8 507.0 1406.8 505.6 1408.9 504.2 1411.0 502.8 1413.1 501.5 1415.2 500.1 1417.3 498.7 1419.4 497.4 1421.4 496.0 1423.5 494.7 1425.7 493.4 1427.8 492.0 1429.9 490.7 1432.0 489.4 1434.1 488.1 1436.2 486.8 1438.3 485.4 1440.5 484.1 1442.6 482.9 1444.7 481.6 1446.9 480.3 1449.0 479.0 1451.1 477.7 1453.3 476.5 1455.4 475.2 1457.6 474.0 1459.7 472.7 1461.9 471.5 1464.1 470.2 1466.2 469.0 1468.4 467.8 1470.6 466.6 1472.8 465.4 1475.0 464.2 1477.2 463.0 1479.3 461.8 1481.5 460.6 1483.7 459.5 1485.9 458.3 1488.2 457.1 1490.4 456.0 1492.6 454.8 1494.8 453.7 1497.0 452.5 1499.3 451.4 1501.5 450.3 1503.7 449.2 1505.9 448.0 1508.2 446.9 1510.4 445.8 1512.7 444.7 1514.9 443.6 1517.2 442.5 1519.4 441.4 1521.7 440.3 1523.9 439.2 1526.2 438.2 1528.4 437.1 1530.7 436.0 1532.9 434.9 1535.2 433.9 1537.5 432.8 1539.7 431.7 1542.0 430.7 1544.3 429.6 1546.6 428.6 1548.8 427.5 1551.1 426.5 1553.4 425.4 1555.6 424.4 1557.9 423.3 1560.2 422.3 1562.5 421.2 1564.8 420.2 1567.0 419.1 1569.3 418.1 1571.6 417.1 1573.9 416.0 1576.2 415.0 1578.4 413.9 1580.7 412.9 1583.0 411.9 1585.3 410.8 1587.6 409.8 1589.8 408.7 1592.1 407.7 1594.4 406.7 1596.7 405.6 1599.0 404.6 1601.2 403.5 1603.5 402.5 1605.8 401.4 1608.1 400.4 1610.4 399.3 1612.6 398.3 1614.9 397.2 1617.2 396.2 1619.4 395.1 1621.7 394.1 1624.0 393.0 1626.2 391.9 1628.5 390.9 1630.8 389.8 1633.0 388.7 1635.3 387.6 1637.5 386.6 1639.8 385.5 1642.0 384.4 1644.3 383.3 1646.5 382.2 1648.8 381.1 1651.0 380.0 1653.3 378.9 1655.5 377.8 1657.7 376.7 1660.0 375.5 1662.2 374.4 1664.4 373.3 1666.6 372.1 1668.9 371.0 1671.1 369.9 1673.3 368.7 1675.5 367.5 1677.7 366.4 1679.9 365.2 1682.1 364.0 1684.3 362.8 1686.5 361.7 1688.7 360.5 1690.9 359.3 1693.0 358.1 1695.2 356.8 1697.4 355.6 1699.6 354.4 1701.7 353.1 1703.9 351.9 1706.0 350.6 1708.2 349.4 1710.3 348.1 1712.4 346.8 1714.6 345.6 1716.7 344.3 1718.8 343.0 1720.9 341.6 1723.1 340.3 1725.2 339.0 1727.3 337.7 1729.4 336.3 1731.4 335.0 1733.5 333.6 1735.6 332.2 1737.7 330.8 1739.8 329.5 1741.8 328.1 1743.9 326.7 1745.9 325.2 1748.0 323.8 1750.0 322.4 1752.0 321.0 1754.1 319.5 1756.1 318.0 1758.1 316.6 1760.1 315.1 1762.1 313.6 1764.1 312.1 1766.1 310.6 1768.1 309.1 1770.1 307.6 1772.1 306.1 1774.1 304.6 1776.0 303.0 1778.0 301.5 1779.9 300.0 1781.9 298.4 1783.8 296.8 1785.8 295.3 1787.7 293.7 1789.6 292.1 1791.5 290.5 1793.4 288.9 1795.4 287.3 1797.3 285.6 1799.1 284.0 1801.0 282.4 1802.9 280.7 1804.8 279.1 1806.7 277.4 1808.5 275.8 1810.4 274.1 1812.2 272.4 1814.1 270.7 1815.9 269.0 1817.7 267.3 1819.6 265.6 1821.4 263.9 1823.2 262.2 1825.0 260.4 1826.8 258.7 1828.6 257.0 1830.4 255.2 1832.2 253.5 1833.9 251.7 1835.7 249.9 1837.5 248.1 1839.2 246.4 1841.0 244.6 1842.7 242.8 1844.4 241.0 1846.2 239.1 1847.9 237.3 1849.6 235.5 L1849.4 238.0 1849.2 240.5 1848.9 243.0 1848.7 245.5 1848.4 248.0 1848.2 250.5 1848.0 253.0 1847.7 255.5 1847.4 258.0 1847.2 260.5 1846.9 263.0 1846.7 265.5 1846.4 268.0 1846.1 270.5 1845.8 273.0 1845.5 275.4 1845.2 277.9 1844.9 280.4 1844.7 282.9 1844.3 285.3 1844.0 287.8 1843.7 290.3 1843.4 292.7 1843.1 295.2 1842.8 297.7 1842.4 300.1 1842.1 302.6 1841.8 305.1 1841.4 307.5 1841.1 310.0 1840.7 312.4 1840.4 314.9 1840.0 317.4 1839.7 319.8 1839.3 322.3 1838.9 324.7 1838.6 327.2 1838.2 329.6 1837.8 332.1 1837.4 334.5 1837.0 337.0 1836.6 339.4 1836.2 341.9 1835.8 344.3 1835.4 346.7 1835.0 349.2 1834.6 351.6 1834.2 354.1 1833.7 356.5 1833.3 359.0 1832.9 361.4 1832.4 363.9 1832.0 366.3 1831.6 368.8 1831.1 371.2 1830.7 373.6 1830.2 376.1 1829.7 378.5 1829.3 381.0 1828.8 383.4 1828.3 385.9 1827.9 388.3 1827.4 390.8 1826.9 393.2 1826.4 395.6 1825.9 398.1 1825.4 400.5 1824.9 403.0 1824.4 405.4 1823.9 407.9 1823.4 410.3 1822.9 412.8 1822.3 415.2 1821.8 417.7 1821.3 420.1 1820.8 422.6 1820.2 425.0 1819.7 427.5 1819.1 429.9 1818.6 432.4 1818.0 434.8 1817.4 437.3 1816.9 439.7 1816.3 442.2 1815.7 444.6 1815.1 447.1 1814.5 449.5 1813.9 452.0 1813.3 454.4 1812.7 456.8 1812.1 459.3 1811.5 461.7 1810.9 464.2 1810.2 466.6 1809.6 469.0 1809.0 471.5 1808.3 473.9 1807.6 476.3 1807.0 478.8 1806.3 481.2 1805.6 483.6 1805.0 486.0 1804.3 488.5 1803.6 490.9 1802.9 493.3 1802.2 495.7 1801.5 498.1 1800.7 500.5 1800.0 502.9 1799.3 505.3 1798.5 507.7 1797.8 510.1 1797.0 512.5 1796.3 514.9 1795.5 517.3 1794.7 519.7 1794.0 522.1 1793.2 524.5 1792.4 526.9 1791.6 529.2 1790.7 531.6 1789.9 534.0 1789.1 536.4 1788.3 538.7 1787.4 541.1 1786.6 543.4 1785.7 545.8 1784.8 548.1 1784.0 550.5 1783.1 552.8 1782.2 555.2 1781.3 557.5 1780.4 559.8 1779.4 562.2 1778.5 564.5 1777.6 566.8 1776.6 569.1 1775.7 571.4 1774.7 573.7 1773.7 576.0 1772.8 578.3 1771.8 580.6 1770.8 582.9 1769.8 585.2 1768.7 587.5 1767.7 589.7 1766.7 592.0 1765.6 594.3 1764.6 596.5 1763.5 598.8 1762.4 601.0 1761.4 603.2 1760.3 605.5 1759.2 607.7 1758.0 609.9 1756.9 612.2 1755.8 614.4 1754.6 616.6 1753.5 618.8 1752.3 621.0 1751.2 623.2 1750.0 625.3 1748.8 627.5 1747.6 629.7 1746.4 631.8 1745.1 634.0 1743.9 636.2 1742.7 638.3 1741.4 640.4 1740.1 642.6 1738.9 644.7 1737.6 646.8 1736.3 649.0 1735.0 651.1 1733.7 653.2 1732.4 655.3 1731.0 657.4 1729.7 659.5 1728.3 661.5 1727.0 663.6 1725.6 665.7 1724.3 667.8 1722.9 669.8 1721.5 671.9 1720.1 673.9 1718.7 676.0 1717.3 678.0 1715.8 680.1 1714.4 682.1 1713.0 684.1 1711.5 686.1 1710.1 688.2 1708.6 690.2 1707.1 692.2 1705.6 694.2 1704.2 696.2 1702.7 698.1 1701.2 700.1 1699.6 702.1 1698.1 704.1 1696.6 706.1 1695.1 708.0 1693.5 710.0 1692.0 711.9 1690.4 713.9 1688.9 715.8 1687.3 717.8 1685.7 719.7 1684.1 721.6 1682.6 723.5 1681.0 725.5 1679.4 727.4 1677.8 729.3 1676.1 731.2 1674.5 733.1 1672.9 735.0 1671.3 736.9 1669.6 738.8 1668.0 740.6 1666.3 742.5 1664.7 744.4 1663.0 746.3 1661.3 748.1 1659.7 750.0 1658.0 751.8 1656.3 753.7 1654.6 755.5 1652.9 757.4 1651.2 759.2 1649.5 761.0 1647.8 762.9 1646.1 764.7 1644.3 766.5 1642.6 768.3 1640.9 770.1 1639.1 771.9 1637.4 773.7 1635.7 775.5 1633.9 777.3 1632.2 779.1 1630.4 780.9 1628.6 782.7 1626.9 784.5 1625.1 786.2 1623.3 788.0 1621.5 789.8 1619.7 791.5 1618.0 793.3 1616.2 795.0 1614.4 796.8 1612.6 798.5 1610.8 800.3 1609.0 802.0 1607.1 803.7 1605.3 805.5 1603.5 807.2 1601.7 808.9 1599.9 810.6 1598.0 812.3 1596.2 814.1 1594.4 815.8 1592.5 817.5 1590.7 819.2 1588.9 820.9 1587.0 822.6 1585.2 824.2 1583.3 825.9 1581.5 827.6 1579.6 829.3 1577.7 831.0 1575.9 832.6 1574.0 834.3 1572.1 836.0 1570.3 837.6 1568.4 839.3 1566.5 840.9 1564.7 842.6 1562.8 844.2 1560.9 845.9 1559.0 847.5 1557.1 849.1 1555.2 850.8 1553.3 852.4 1551.4 854.0 1549.5 855.7 1547.6 857.3 1545.7 858.9 1543.8 860.5 1541.9 862.1 1540.0 863.7 1538.1 865.3 1536.2 866.9 1534.2 868.5 1532.3 870.1 1530.4 871.7 1528.5 873.3 1526.5 874.8 1524.6 876.4 1522.7 878.0 1520.7 879.6 1518.8 881.1 1516.8 882.7 1514.9 884.2 1513.0 885.8 1511.0 887.3 1509.0 888.9 1507.1 890.4 1505.1 892.0 1503.2 893.5 1501.2 895.1 1499.2 896.6 1497.3 898.1 1495.3 899.6 1493.3 901.2 1491.3 902.7 1489.4 904.2 1487.4 905.7 1485.4 907.2 1483.4 908.7 1481.4 910.2 1479.4 911.7 1477.4 913.2 1475.4 914.7 1473.4 916.2 1471.4 917.7 1469.4 919.2 1467.4 920.6 1465.4 922.1 1463.4 923.6 1461.4 925.1 1459.4 926.5 1457.4 928.0 1455.3 929.4 1453.3 930.9 1451.3 932.4 1449.3 933.8 1447.2 935.3 1445.2 936.7 1443.2 938.1 1441.1 939.6 1439.1 941.0 1437.0 942.4 1435.0 943.9 1432.9 945.3 1430.9 946.7 1428.8 948.1 1426.8 949.5 1424.7 950.9 1422.7 952.4 1420.6 953.8 1418.5 955.2 1416.5 956.6 1414.4 957.9 1412.3 959.3 1410.2 960.7 1408.2 962.1 1406.1 963.5 1404.0 964.9 1401.9 966.2 1399.8 967.6 1397.7 969.0 1395.7 970.4 1393.6 971.7 1391.5 973.1 1389.4 974.4 1387.3 975.8 1385.2 977.1 1383.1 978.5 1381.0 979.8 1378.8 981.2 1376.7 982.5 1374.6 983.8 1372.5 985.2 1370.4 986.5 1368.3 987.8 1366.1 989.2 1364.0 990.5 1361.9 991.8 1359.8 993.1 1357.6 994.4 1355.5 995.7 1353.3 997.0 1351.2 998.3 1349.1 999.6 1346.9 1000.9 1344.8 1002.2 1342.6 1003.5 1340.5 1004.8 1338.3 1006.1 1336.2 1007.4 1334.0 1008.6 1331.9 1009.9 1329.7 1011.2 1327.5 1012.4 1325.4 1013.7 1323.2 1015.0 1321.0 1016.2 1318.9 1017.5 1316.7 1018.7 1314.5 1020.0 1312.3 1021.2 1310.1 1022.5 1308.0 1023.7 1305.8 1025.0 1303.6 1026.2 1301.4 1027.4 1299.2 1028.7 1297.0 1029.9 1294.8 1031.1 1292.6 1032.3 1290.4 1033.5 1288.2 1034.8 1286.0 1036.0 1283.8 1037.2 1281.6 1038.4 1279.4 1039.6 1277.2 1040.8 1275.0 1041.9 1272.7 1043.1 1270.5 1044.3 1268.3 1045.5 1266.1 1046.6 1263.8 1047.8 1261.6 1049.0 1259.4 1050.1 1257.1 1051.3 1254.9 1052.4 1252.7 1053.5 1250.4 1054.7 1248.2 1055.8 1245.9 1056.9 1243.7 1058.0 1241.4 1059.2 1239.2 1060.3 1236.9 1061.4 1234.7 1062.5 1232.4 1063.5 1230.2 1064.6 1227.9 1065.7 1225.6 1066.8 1223.3 1067.8 1221.1 1068.9 1218.8 1069.9 1216.5 1071.0 1214.2 1072.0 1212.0 1073.0 1209.7 1074.1 1207.4 1075.1 1205.1 1076.1 1202.8 1077.1 1200.5 1078.1 1198.2 1079.1 1195.9 1080.0 1193.6 1081.0 1191.3 1082.0 1189.0 1082.9 1186.7 1083.9 1184.4 1084.8 1182.1 1085.7 1179.7 1086.7 1177.4 1087.6 1175.1 1088.5 1172.8 1089.4 1170.4 1090.3 1168.1 1091.2 1165.8 1092.0 1163.4 1092.9 1161.1 1093.7 1158.8 1094.6 1156.4 1095.4 1154.1 1096.2 1151.7 1097.1 1149.4 1097.9 1147.0 1098.7 1144.7 1099.5 1142.3 1100.2 1139.9 1101.0 1137.6 1101.8 1135.2 1102.5 1132.8 1103.3 1130.5 1104.0 1128.1 1104.7 1125.7 1105.4 1123.3 1106.1 1120.9 1106.8 1118.5 1107.5 1116.2 1108.2 1113.8 1108.8 1111.4 1109.5 1109.0 1110.1 1106.6 1110.7 1104.2 1111.3 1101.8 1111.9 1099.3 1112.5 1096.9 1113.1 1094.5 1113.7 1092.1 1114.3 1089.7 1114.8 1087.3 1115.4 1084.8 1115.9 1082.4 1116.4 1080.0 1116.9 1077.6 1117.4 1075.1 1117.9 1072.7 1118.4 1070.2 1118.9 1067.8 1119.4 1065.4 1119.9 1062.9 1120.3 1060.5 1120.8 1058.0 1121.2 1055.6 1121.6 1053.1 1122.0 1050.7 1122.5 1048.2 1122.9 1045.8 1123.3 1043.3 1123.7 1040.8 1124.0 1038.4 1124.4 1035.9 1124.8 1033.4 1125.2 1031.0 1125.5 1028.5 1125.9 1026.0 1126.2 1023.6 1126.5 1021.1 1126.9 1018.6 1127.2 1016.1 1127.5 1013.6 1127.8 1011.2 1128.1 1008.7 1128.4 1006.2 1128.7 1003.7 1129.0 1001.2 1129.3 998.7 1129.5 996.3 1129.8 993.8 1130.1 991.3 1130.3 988.8 1130.6 986.3 1130.8 983.8 1131.1 981.3 1131.3 978.8 1131.5 976.3 1131.8 973.8 1132.0 971.3 1132.2 968.8 1132.4 966.3 1132.6 963.8 1132.8 961.3 1133.0 958.8 1133.2 956.3 1133.4 953.8 1133.6 951.3 1133.8 948.8 1134.0 946.3 1134.2 943.8 1134.4 941.3 1134.5 938.8 1134.7 936.2 1134.9 933.7 1135.0 931.2 1135.2 928.7 1135.4 926.2 1135.5 923.7 1135.7 921.2 1135.8 918.7 1136.0 916.2 1136.1 913.7 1136.3 911.1 1136.4 908.6 1136.6 906.1 1136.7 903.6 1136.8 901.1 1137.0 898.6 1137.1 896.1 1137.3 893.6 1137.4 891.1 1137.5 888.5 1137.7 886.0 1137.8 883.5 1137.9 881.0 1138.1 878.5 1138.2 876.0 1138.3 873.5 1138.5 871.0 1138.6 868.5 1138.7 866.0 1138.8 863.4 1139.0 860.9 1139.1 858.4 1139.2 855.9 1139.4 853.4 1139.5 850.9 1139.6 848.4 1139.8 845.9 1139.9 843.4 1140.0 840.9 1140.2 838.4 1140.3 835.9 1140.4 833.4 1140.6 830.9 1140.7 828.4 1140.8 825.9 1141.0 823.4 1141.1 820.9 1141.2 818.4 1141.3 815.9 1141.5 813.4 1141.6 810.9 1141.7 808.4 1141.8 805.9 1141.9 803.4 1142.0 800.9 1142.1 798.4 1142.3 795.9 1142.4 793.5 1142.5 791.0 1142.6 788.5 1142.7 786.0 1142.8 783.5 1142.8 781.0 1142.9 778.5 1143.0 776.0 1143.1 773.5 1143.2 771.0 1143.2 768.5 1143.3 766.1 1143.4 763.6 1143.4 761.1 1143.5 758.6 1143.5 756.1 1143.6 753.6 1143.6 751.1 1143.7 748.6 1143.7 746.2 1143.7 743.7 1143.7 741.2 1143.8 738.7 1143.8 736.2 1143.8 733.7 1143.8 731.2 1143.8 728.8 1143.7 726.3 1143.7 723.8 1143.7 721.3 1143.7 718.8 1143.6 716.3 1143.6 713.9 1143.5 711.4 1143.5 708.9 1143.4 706.4 1143.3 703.9 1143.2 701.5 1143.2 699.0 1143.1 696.5 1143.0 694.0 1142.8 691.5 1142.7 689.1 1142.6 686.6 1142.5 684.1 1142.3 681.6 1142.2 679.1 1142.0 676.7 1141.8 674.2 1141.7 671.7 1141.5 669.2 1141.3 666.7 1141.1 664.3 1140.9 661.8 1140.7 659.3 1140.4 656.8 1140.2 654.3 1140.0 651.9 1139.7 649.4 1139.5 646.9 1139.2 644.4 1139.0 642.0 1138.7 639.5 1138.5 637.0 1138.2 634.5 1137.9 632.0 1137.6 629.6 1137.4 627.1 1137.1 624.6 1136.8 622.1 1136.5 619.6 1136.2 617.1 1135.9 614.7 1135.6 612.2 1135.4 609.7 1135.1 607.2 1134.8 604.7 1134.5 602.2 1134.2 599.8 1133.9 597.3 1133.6 594.8 1133.3 592.3 1133.0 589.8 1132.7 587.3 1132.4 584.8 1132.1 582.3 1131.8 579.9 1131.5 577.4 1131.3 574.9 1131.0 572.4 1130.7 569.9 1130.4 567.4 1130.2 564.9 1129.9 562.4 1129.6 559.9 1129.4 557.4 1129.1 554.9 1128.9 552.4 1128.6 549.9 1128.4 547.4 1128.2 544.9 1127.9 542.4 1127.7 539.9 1127.5 537.4 1127.3 534.9 1127.1 532.4 1126.9 529.9 1126.8 527.4 1126.6 524.9 1126.5 522.4 1126.3 519.9 1126.2 517.4 1126.1 514.9 1125.9 512.4 1125.8 509.9 1125.8 507.4 1125.7 504.9 1125.6 502.4 1125.6 499.9 1125.6 497.4 1125.5 494.9 1125.5 492.4 1125.6 489.9 1125.6 487.5 1125.6 485.0 1125.7 482.5 1125.8 480.0 1125.9 477.5 1126.0 475.1 1126.1 472.6 1126.3 470.1 1126.4 467.7 1126.6 465.2 1126.8 462.7 1127.1 460.3 1127.3 457.8 1127.6 455.4 1127.9 452.9 1128.2 450.5 1128.6 448.1 1128.9 445.6 1129.3 443.2 1129.7 440.8 1130.1 438.3 1130.6 435.9 1131.1 433.5 1131.6 431.1 1132.1 428.7 1132.7 426.3 1133.2 423.9 1133.8 421.6 1134.5 419.2 1135.1 416.8 1135.8 414.5 1136.5 412.1 1137.2 409.8 1138.0 407.4 1138.7 405.1 1139.6 402.8 1140.4 400.5 1141.3 398.2 1142.1 395.9 1143.1 393.6 1144.0 391.3 1145.0 389.0 1146.0 386.8 1147.0 384.5 1148.1 382.3 1149.2 380.1 1150.3 377.8 1151.5 375.6 1152.7 373.4 1153.9 371.3 1155.1 369.1 1156.4 366.9 1157.7 364.8 1159.1 362.6 1160.4 360.5 1161.8 358.4 1163.3 356.3 1164.8 354.2 1166.3 352.2 1167.8 350.1 1169.4 348.1 1171.0 346.0 1172.6 344.0 1174.3 342.0 1176.0" fill="none" stroke="#ff8000" stroke-width="7.8" stroke-linejoin="bevel"/>
<line x1="1464.6" y1="207.2" x2="1634.2" y2="252.4" stroke="#888" stroke-width="7"/>
<line x1="1394.4" y1="274.4" x2="1565.0" y2="319.6" stroke="#888" stroke-width="7"/>
<line x1="1339.5" y1="351.8" x2="1507.8" y2="396.4" stroke="#888" stroke-width="7"/>
<line x1="1222.5" y1="410.5" x2="1428.8" y2="462.3" stroke="#888" stroke-width="7"/>
<line x1="1151.8" y1="487.5" x2="1376.1" y2="516.6" stroke="#888" stroke-width="7"/>
<rect x="269.2" y="61.0" width="1656.7" height="1358.7" fill="none" stroke="#000" stroke-width="11" stroke-linejoin="round"/>
<path d="M243.5 61.0 H295.5 M1931 61.0 H1951.5 M243.5 317.1 H295.5 M1931 317.1 H1951.5 M243.5 573.2 H295.5 M1931 573.2 H1951.5 M243.5 829.3 H295.5 M1931 829.3 H1951.5 M243.5 1085.4 H295.5 M1931 1085.4 H1951.5 M243.5 1341.5 H295.5 M1931 1341.5 H1951.5 M257 189.0 H281.5 M1931 189.0 H1939 M257 445.1 H281.5 M1931 445.1 H1939 M257 701.2 H281.5 M1931 701.2 H1939 M257 957.4 H281.5 M1931 957.4 H1939 M257 1213.5 H281.5 M1931 1213.5 H1939 M343.9 1394.5 V1447 M343.9 35 V56 M720.4 1394.5 V1447 M720.4 35 V56 M1096.9 1394.5 V1447 M1096.9 35 V56 M1473.4 1394.5 V1447 M1473.4 35 V56 M1849.9 1394.5 V1447 M1849.9 35 V56 M532.1 1407 V1433 M532.1 48.5 V56 M908.6 1407 V1433 M908.6 48.5 V56 M1285.2 1407 V1433 M1285.2 48.5 V56 M1661.7 1407 V1433 M1661.7 48.5 V56" stroke="#000" stroke-width="11" stroke-linecap="round" fill="none"/>
<text x="224" y="77.6" font-family="&quot;Liberation Sans&quot;, Arial, sans-serif" font-weight="bold" font-size="64" text-anchor="end">0.3</text>
<text x="224" y="333.7" font-family="&quot;Liberation Sans&quot;, Arial, sans-serif" font-weight="bold" font-size="64" text-anchor="end">0.2</text>
<text x="224" y="589.8" font-family="&quot;Liberation Sans&quot;, Arial, sans-serif" font-weight="bold" font-size="64" text-anchor="end">0.1</text>
<text x="224" y="845.9" font-family="&quot;Liberation Sans&quot;, Arial, sans-serif" font-weight="bold" font-size="64" text-anchor="end">0.0</text>
<text x="224" y="1102.0" font-family="&quot;Liberation Sans&quot;, Arial, sans-serif" font-weight="bold" font-size="64" text-anchor="end">-0.1</text>
<text x="224" y="1358.1" font-family="&quot;Liberation Sans&quot;, Arial, sans-serif" font-weight="bold" font-size="64" text-anchor="end">-0.2</text>
<text x="343.9" y="1515.8" font-family="&quot;Liberation Sans&quot;, Arial, sans-serif" font-weight="bold" font-size="64" text-anchor="middle">2.0</text>
<text x="720.4" y="1515.8" font-family="&quot;Liberation Sans&quot;, Arial, sans-serif" font-weight="bold" font-size="64" text-anchor="middle">2.5</text>
<text x="1096.9" y="1515.8" font-family="&quot;Liberation Sans&quot;, Arial, sans-serif" font-weight="bold" font-size="64" text-anchor="middle">3.0</text>
<text x="1473.4" y="1515.8" font-family="&quot;Liberation Sans&quot;, Arial, sans-serif" font-weight="bold" font-size="64" text-anchor="middle">3.5</text>
<text x="1849.9" y="1515.8" font-family="&quot;Liberation Sans&quot;, Arial, sans-serif" font-weight="bold" font-size="64" text-anchor="middle">4.0</text>
<text x="801" y="1611.3" font-family="&quot;Liberation Sans&quot;, Arial, sans-serif" font-weight="bold" font-size="77" letter-spacing="0.4">V (V vs Li<tspan font-size="46" dy="-45">+</tspan><tspan dy="45">/Li)</tspan></text>
<text transform="translate(103.4 910) rotate(-90)" font-family="&quot;Liberation Sans&quot;, Arial, sans-serif" font-weight="bold" font-size="79">i(mA/cm<tspan font-size="51" dy="-43">2</tspan><tspan dy="43">)</tspan></text>
<text x="1409.5" y="210.2" font-family="&quot;Liberation Sans&quot;, Arial, sans-serif" font-size="59" stroke="#000" stroke-width="1.3"><tspan textLength="33.5" lengthAdjust="spacingAndGlyphs">2</tspan><tspan font-size="43" dx="2.0" dy="-20" textLength="47.5" lengthAdjust="spacingAndGlyphs">nd</tspan></text>
<text x="1312.0" y="274.4" font-family="&quot;Liberation Sans&quot;, Arial, sans-serif" font-size="59" stroke="#000" stroke-width="1.3"><tspan textLength="64.0" lengthAdjust="spacingAndGlyphs">20</tspan><tspan font-size="43" dx="5.5" dy="-20" textLength="38.5" lengthAdjust="spacingAndGlyphs">th</tspan></text>
<text x="1245.5" y="353.6" font-family="&quot;Liberation Sans&quot;, Arial, sans-serif" font-size="59" stroke="#000" stroke-width="1.3"><tspan textLength="69.0" lengthAdjust="spacingAndGlyphs">50</tspan><tspan font-size="43" dx="1.5" dy="-20" textLength="38.5" lengthAdjust="spacingAndGlyphs">th</tspan></text>
<text x="1133.5" y="401.1" font-family="&quot;Liberation Sans&quot;, Arial, sans-serif" font-size="59" stroke="#000" stroke-width="1.3"><tspan textLength="69.0" lengthAdjust="spacingAndGlyphs">70</tspan><tspan font-size="43" dx="1.5" dy="-20" textLength="38.5" lengthAdjust="spacingAndGlyphs">th</tspan></text>
<text x="1019.5" y="483.6" font-family="&quot;Liberation Sans&quot;, Arial, sans-serif" font-size="59" stroke="#000" stroke-width="1.3"><tspan textLength="103.0" lengthAdjust="spacingAndGlyphs">100</tspan><tspan font-size="43" dx="3.0" dy="-20" textLength="38.5" lengthAdjust="spacingAndGlyphs">th</tspan></text>
</svg>
</body></html>
